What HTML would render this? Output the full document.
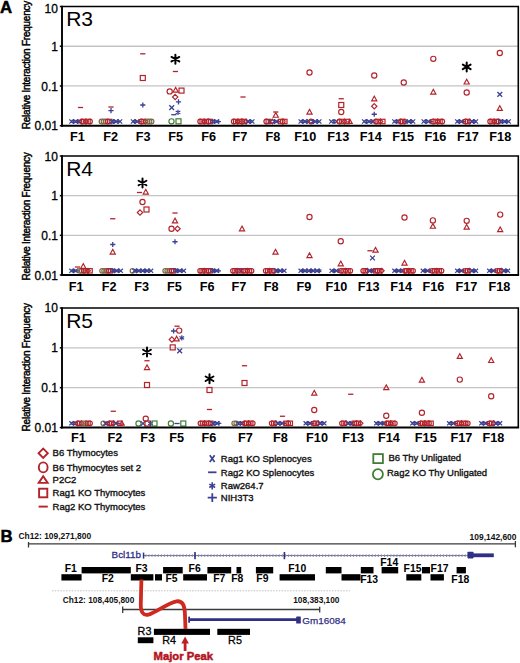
<!DOCTYPE html><html><head><meta charset="utf-8"><style>html,body{margin:0;padding:0;background:#fff;width:520px;height:663px;overflow:hidden}svg{display:block}text{font-family:"Liberation Sans", sans-serif}</style></head><body>
<svg width="520" height="663" viewBox="0 0 520 663">
<rect width="520" height="663" fill="#fff"/>
<text x="-0.1" y="12.6" font-size="16.8" font-weight="bold" fill="#000" stroke="#000" stroke-width="0.5">A</text>
<line x1="62.0" y1="46.23" x2="518.3" y2="46.23" stroke="#c4c4c4" stroke-width="1.3"/>
<line x1="62.0" y1="85.97" x2="518.3" y2="85.97" stroke="#c4c4c4" stroke-width="1.3"/>
<line x1="59.8" y1="6.50" x2="62.0" y2="6.50" stroke="#000" stroke-width="1.5"/>
<text x="57.9" y="12.50" font-size="12" text-anchor="end" fill="#000" stroke="#000" stroke-width="0.3">10</text>
<line x1="59.8" y1="46.23" x2="62.0" y2="46.23" stroke="#000" stroke-width="1.5"/>
<text x="57.9" y="50.63" font-size="12" text-anchor="end" fill="#000" stroke="#000" stroke-width="0.3">1</text>
<line x1="59.8" y1="85.97" x2="62.0" y2="85.97" stroke="#000" stroke-width="1.5"/>
<text x="57.9" y="90.97" font-size="12" text-anchor="end" fill="#000" stroke="#000" stroke-width="0.3">0.1</text>
<line x1="59.8" y1="125.70" x2="62.0" y2="125.70" stroke="#000" stroke-width="1.5"/>
<text x="57.9" y="129.60" font-size="12" text-anchor="end" fill="#000" stroke="#000" stroke-width="0.3">0.01</text>
<text transform="translate(30.0,65.0) rotate(-90)" font-size="10" text-anchor="middle" textLength="128.4" lengthAdjust="spacing" fill="#000" stroke="#000" stroke-width="0.45">Relative Interaction Frequency</text>
<text x="66.2" y="26.2" font-size="21" fill="#000">R3</text>
<path d="M69.33800000000001,119.388L73.562,123.612M73.562,119.388L69.33800000000001,123.612" stroke="#3c4192" stroke-width="1.25" fill="none"/>
<path d="M73.51666666666667,119.124L73.51666666666667,123.876M71.45899030727485,120.312L75.57434302605849,122.688M75.57434302605849,120.312L71.45899030727485,122.688" stroke="#3c4192" stroke-width="1.25" fill="none"/>
<path d="M73.47133333333335,119.388L77.69533333333334,123.612M77.69533333333334,119.388L73.47133333333335,123.612" stroke="#3c4192" stroke-width="1.25" fill="none"/>
<path d="M75.36200000000001,121.5L79.938,121.5M77.65,119.212L77.65,123.788" stroke="#3c4192" stroke-width="1.25" fill="none"/>
<path d="M77.60466666666667,119.388L81.82866666666666,123.612M81.82866666666666,119.388L77.60466666666667,123.612" stroke="#3c4192" stroke-width="1.25" fill="none"/>
<circle cx="81.78333333333333" cy="121.5" r="2.2880000000000003" fill="none" stroke="#b3232b" stroke-width="1.2"/>
<rect x="81.65" y="119.3" width="4.4" height="4.4" fill="none" stroke="#b3232b" stroke-width="1.2"/>
<polygon points="85.91666666666667,119.124 88.29266666666668,121.5 85.91666666666667,123.876 83.54066666666667,121.5" fill="none" stroke="#b3232b" stroke-width="1.2"/>
<rect x="85.78333333333333" y="119.3" width="4.4" height="4.4" fill="none" stroke="#b3232b" stroke-width="1.2"/>
<circle cx="90.05000000000001" cy="121.5" r="2.2880000000000003" fill="none" stroke="#b3232b" stroke-width="1.2"/>
<circle cx="101.45" cy="121.5" r="2.2880000000000003" fill="none" stroke="#7d6a48" stroke-width="1.2"/>
<circle cx="103.51666666666667" cy="121.5" r="2.2880000000000003" fill="none" stroke="#7d6a48" stroke-width="1.2"/>
<circle cx="105.58333333333334" cy="121.5" r="2.2880000000000003" fill="none" stroke="#7d6a48" stroke-width="1.2"/>
<circle cx="107.65" cy="121.5" r="2.2880000000000003" fill="none" stroke="#b3232b" stroke-width="1.2"/>
<rect x="107.51666666666667" y="119.3" width="4.4" height="4.4" fill="none" stroke="#b3232b" stroke-width="1.2"/>
<path d="M109.67133333333334,119.388L113.89533333333333,123.612M113.89533333333333,119.388L109.67133333333334,123.612" stroke="#3c4192" stroke-width="1.25" fill="none"/>
<path d="M113.85000000000001,119.124L113.85000000000001,123.876M111.79232364060819,120.312L115.90767635939183,122.688M115.90767635939183,120.312L111.79232364060819,122.688" stroke="#3c4192" stroke-width="1.25" fill="none"/>
<path d="M113.80466666666668,119.388L118.02866666666667,123.612M118.02866666666667,119.388L113.80466666666668,123.612" stroke="#3c4192" stroke-width="1.25" fill="none"/>
<path d="M115.69533333333334,121.5L120.27133333333333,121.5M117.98333333333333,119.212L117.98333333333333,123.788" stroke="#3c4192" stroke-width="1.25" fill="none"/>
<path d="M117.93800000000002,119.388L122.162,123.612M122.162,119.388L117.93800000000002,123.612" stroke="#3c4192" stroke-width="1.25" fill="none"/>
<path d="M130.888,119.388L135.112,123.612M135.112,119.388L130.888,123.612" stroke="#3c4192" stroke-width="1.25" fill="none"/>
<path d="M135.06666666666666,119.124L135.06666666666666,123.876M133.00899030727484,120.312L137.12434302605848,122.688M137.12434302605848,120.312L133.00899030727484,122.688" stroke="#3c4192" stroke-width="1.25" fill="none"/>
<path d="M135.02133333333333,119.388L139.24533333333332,123.612M139.24533333333332,119.388L135.02133333333333,123.612" stroke="#3c4192" stroke-width="1.25" fill="none"/>
<path d="M136.91199999999998,121.5L141.488,121.5M139.2,119.212L139.2,123.788" stroke="#3c4192" stroke-width="1.25" fill="none"/>
<circle cx="141.26666666666668" cy="121.5" r="2.2880000000000003" fill="none" stroke="#b3232b" stroke-width="1.2"/>
<rect x="141.13333333333335" y="119.3" width="4.4" height="4.4" fill="none" stroke="#b3232b" stroke-width="1.2"/>
<polygon points="145.4,119.124 147.776,121.5 145.4,123.876 143.024,121.5" fill="none" stroke="#b3232b" stroke-width="1.2"/>
<circle cx="147.46666666666667" cy="121.5" r="2.2880000000000003" fill="none" stroke="#7d6a48" stroke-width="1.2"/>
<circle cx="149.53333333333333" cy="121.5" r="2.2880000000000003" fill="none" stroke="#7d6a48" stroke-width="1.2"/>
<circle cx="151.6" cy="121.5" r="2.2880000000000003" fill="none" stroke="#7d6a48" stroke-width="1.2"/>
<circle cx="200.1" cy="121.5" r="2.2880000000000003" fill="none" stroke="#b3232b" stroke-width="1.2"/>
<rect x="199.96666666666667" y="119.3" width="4.4" height="4.4" fill="none" stroke="#b3232b" stroke-width="1.2"/>
<polygon points="204.23333333333332,119.124 206.60933333333332,121.5 204.23333333333332,123.876 201.85733333333332,121.5" fill="none" stroke="#b3232b" stroke-width="1.2"/>
<rect x="204.1" y="119.3" width="4.4" height="4.4" fill="none" stroke="#b3232b" stroke-width="1.2"/>
<circle cx="208.36666666666667" cy="121.5" r="2.2880000000000003" fill="none" stroke="#b3232b" stroke-width="1.2"/>
<rect x="208.23333333333335" y="119.3" width="4.4" height="4.4" fill="none" stroke="#b3232b" stroke-width="1.2"/>
<path d="M210.388,119.388L214.612,123.612M214.612,119.388L210.388,123.612" stroke="#3c4192" stroke-width="1.25" fill="none"/>
<path d="M214.56666666666666,119.124L214.56666666666666,123.876M212.50899030727484,120.312L216.62434302605848,122.688M216.62434302605848,120.312L212.50899030727484,122.688" stroke="#3c4192" stroke-width="1.25" fill="none"/>
<path d="M214.52133333333333,119.388L218.74533333333332,123.612M218.74533333333332,119.388L214.52133333333333,123.612" stroke="#3c4192" stroke-width="1.25" fill="none"/>
<path d="M216.41199999999998,121.5L220.988,121.5M218.7,119.212L218.7,123.788" stroke="#3c4192" stroke-width="1.25" fill="none"/>
<circle cx="233.7" cy="121.5" r="2.2880000000000003" fill="none" stroke="#b3232b" stroke-width="1.2"/>
<rect x="233.56666666666666" y="119.3" width="4.4" height="4.4" fill="none" stroke="#b3232b" stroke-width="1.2"/>
<polygon points="237.83333333333331,119.124 240.20933333333332,121.5 237.83333333333331,123.876 235.4573333333333,121.5" fill="none" stroke="#b3232b" stroke-width="1.2"/>
<rect x="237.7" y="119.3" width="4.4" height="4.4" fill="none" stroke="#b3232b" stroke-width="1.2"/>
<circle cx="241.96666666666667" cy="121.5" r="2.2880000000000003" fill="none" stroke="#b3232b" stroke-width="1.2"/>
<rect x="241.83333333333334" y="119.3" width="4.4" height="4.4" fill="none" stroke="#b3232b" stroke-width="1.2"/>
<polygon points="246.1,119.124 248.476,121.5 246.1,123.876 243.724,121.5" fill="none" stroke="#b3232b" stroke-width="1.2"/>
<path d="M246.05466666666666,119.388L250.27866666666665,123.612M250.27866666666665,119.388L246.05466666666666,123.612" stroke="#3c4192" stroke-width="1.25" fill="none"/>
<path d="M250.23333333333332,119.124L250.23333333333332,123.876M248.1756569739415,120.312L252.29100969272514,122.688M252.29100969272514,120.312L248.1756569739415,122.688" stroke="#3c4192" stroke-width="1.25" fill="none"/>
<path d="M250.188,119.388L254.41199999999998,123.612M254.41199999999998,119.388L250.188,123.612" stroke="#3c4192" stroke-width="1.25" fill="none"/>
<circle cx="266.2" cy="121.5" r="2.2880000000000003" fill="none" stroke="#b3232b" stroke-width="1.2"/>
<rect x="266.06666666666666" y="119.3" width="4.4" height="4.4" fill="none" stroke="#b3232b" stroke-width="1.2"/>
<path d="M268.2213333333333,119.388L272.44533333333334,123.612M272.44533333333334,119.388L268.2213333333333,123.612" stroke="#3c4192" stroke-width="1.25" fill="none"/>
<polygon points="272.4,119.124 274.77599999999995,121.5 272.4,123.876 270.024,121.5" fill="none" stroke="#b3232b" stroke-width="1.2"/>
<path d="M274.46666666666664,119.124L274.46666666666664,123.876M272.4089903072748,120.312L276.5243430260585,122.688M276.5243430260585,120.312L272.4089903072748,122.688" stroke="#3c4192" stroke-width="1.25" fill="none"/>
<path d="M274.4213333333333,119.388L278.6453333333333,123.612M278.6453333333333,119.388L274.4213333333333,123.612" stroke="#3c4192" stroke-width="1.25" fill="none"/>
<path d="M276.31199999999995,121.5L280.888,121.5M278.59999999999997,119.212L278.59999999999997,123.788" stroke="#3c4192" stroke-width="1.25" fill="none"/>
<rect x="278.46666666666664" y="119.3" width="4.4" height="4.4" fill="none" stroke="#b3232b" stroke-width="1.2"/>
<circle cx="282.73333333333335" cy="121.5" r="2.2880000000000003" fill="none" stroke="#b3232b" stroke-width="1.2"/>
<rect x="282.6" y="119.3" width="4.4" height="4.4" fill="none" stroke="#b3232b" stroke-width="1.2"/>
<path d="M298.58799999999997,119.388L302.812,123.612M302.812,119.388L298.58799999999997,123.612" stroke="#3c4192" stroke-width="1.25" fill="none"/>
<path d="M302.76666666666665,119.124L302.76666666666665,123.876M300.7089903072748,120.312L304.8243430260585,122.688M304.8243430260585,120.312L300.7089903072748,122.688" stroke="#3c4192" stroke-width="1.25" fill="none"/>
<path d="M302.7213333333333,119.388L306.94533333333334,123.612M306.94533333333334,119.388L302.7213333333333,123.612" stroke="#3c4192" stroke-width="1.25" fill="none"/>
<path d="M304.61199999999997,121.5L309.188,121.5M306.9,119.212L306.9,123.788" stroke="#3c4192" stroke-width="1.25" fill="none"/>
<path d="M306.8546666666666,119.388L311.07866666666666,123.612M311.07866666666666,119.388L306.8546666666666,123.612" stroke="#3c4192" stroke-width="1.25" fill="none"/>
<circle cx="311.0333333333333" cy="121.5" r="2.2880000000000003" fill="none" stroke="#b3232b" stroke-width="1.2"/>
<path d="M313.09999999999997,119.124L313.09999999999997,123.876M311.0423236406081,120.312L315.1576763593918,122.688M315.1576763593918,120.312L311.0423236406081,122.688" stroke="#3c4192" stroke-width="1.25" fill="none"/>
<path d="M313.0546666666666,119.388L317.27866666666665,123.612M317.27866666666665,119.388L313.0546666666666,123.612" stroke="#3c4192" stroke-width="1.25" fill="none"/>
<path d="M314.94533333333334,121.5L319.52133333333336,121.5M317.23333333333335,119.212L317.23333333333335,123.788" stroke="#3c4192" stroke-width="1.25" fill="none"/>
<path d="M317.188,119.388L321.41200000000003,123.612M321.41200000000003,119.388L317.188,123.612" stroke="#3c4192" stroke-width="1.25" fill="none"/>
<path d="M329.188,119.388L333.41200000000003,123.612M333.41200000000003,119.388L329.188,123.612" stroke="#3c4192" stroke-width="1.25" fill="none"/>
<path d="M333.95714285714286,119.124L333.95714285714286,123.876M331.899466497751,120.312L336.0148192165347,122.688M336.0148192165347,120.312L331.899466497751,122.688" stroke="#3c4192" stroke-width="1.25" fill="none"/>
<path d="M334.5022857142857,119.388L338.7262857142857,123.612M338.7262857142857,119.388L334.5022857142857,123.612" stroke="#3c4192" stroke-width="1.25" fill="none"/>
<circle cx="339.2714285714286" cy="121.5" r="2.2880000000000003" fill="none" stroke="#b3232b" stroke-width="1.2"/>
<rect x="339.72857142857146" y="119.3" width="4.4" height="4.4" fill="none" stroke="#b3232b" stroke-width="1.2"/>
<polygon points="344.5857142857143,119.124 346.96171428571427,121.5 344.5857142857143,123.876 342.2097142857143,121.5" fill="none" stroke="#b3232b" stroke-width="1.2"/>
<rect x="345.04285714285714" y="119.3" width="4.4" height="4.4" fill="none" stroke="#b3232b" stroke-width="1.2"/>
<polygon points="349.90000000000003,119.212 352.18800000000005,123.3304 347.612,123.3304" fill="none" stroke="#b3232b" stroke-width="1.2" stroke-linejoin="miter"/>
<path d="M362.08799999999997,119.388L366.312,123.612M366.312,119.388L362.08799999999997,123.612" stroke="#3c4192" stroke-width="1.25" fill="none"/>
<path d="M366.525,119.124L366.525,123.876M364.46732364060813,120.312L368.5826763593918,122.688M368.5826763593918,120.312L364.46732364060813,122.688" stroke="#3c4192" stroke-width="1.25" fill="none"/>
<path d="M366.73799999999994,119.388L370.962,123.612M370.962,119.388L366.73799999999994,123.612" stroke="#3c4192" stroke-width="1.25" fill="none"/>
<path d="M368.887,121.5L373.463,121.5M371.175,119.212L371.175,123.788" stroke="#3c4192" stroke-width="1.25" fill="none"/>
<path d="M371.388,119.388L375.612,123.612M375.612,119.388L371.388,123.612" stroke="#3c4192" stroke-width="1.25" fill="none"/>
<circle cx="375.825" cy="121.5" r="2.2880000000000003" fill="none" stroke="#b3232b" stroke-width="1.2"/>
<rect x="375.95" y="119.3" width="4.4" height="4.4" fill="none" stroke="#b3232b" stroke-width="1.2"/>
<polygon points="380.47499999999997,119.124 382.85099999999994,121.5 380.47499999999997,123.876 378.099,121.5" fill="none" stroke="#b3232b" stroke-width="1.2"/>
<rect x="380.6" y="119.3" width="4.4" height="4.4" fill="none" stroke="#b3232b" stroke-width="1.2"/>
<path d="M392.33799999999997,119.388L396.562,123.612M396.562,119.388L392.33799999999997,123.612" stroke="#3c4192" stroke-width="1.25" fill="none"/>
<path d="M396.51666666666665,119.124L396.51666666666665,123.876M394.4589903072748,120.312L398.5743430260585,122.688M398.5743430260585,120.312L394.4589903072748,122.688" stroke="#3c4192" stroke-width="1.25" fill="none"/>
<path d="M396.4713333333333,119.388L400.69533333333334,123.612M400.69533333333334,119.388L396.4713333333333,123.612" stroke="#3c4192" stroke-width="1.25" fill="none"/>
<circle cx="400.65" cy="121.5" r="2.2880000000000003" fill="none" stroke="#b3232b" stroke-width="1.2"/>
<rect x="400.51666666666665" y="119.3" width="4.4" height="4.4" fill="none" stroke="#b3232b" stroke-width="1.2"/>
<polygon points="404.7833333333333,119.124 407.1593333333333,121.5 404.7833333333333,123.876 402.4073333333333,121.5" fill="none" stroke="#b3232b" stroke-width="1.2"/>
<path d="M404.56199999999995,121.5L409.138,121.5M406.84999999999997,119.212L406.84999999999997,123.788" stroke="#3c4192" stroke-width="1.25" fill="none"/>
<path d="M406.8046666666666,119.388L411.02866666666665,123.612M411.02866666666665,119.388L406.8046666666666,123.612" stroke="#3c4192" stroke-width="1.25" fill="none"/>
<path d="M410.98333333333335,119.124L410.98333333333335,123.876M408.9256569739415,120.312L413.0410096927252,122.688M413.0410096927252,120.312L408.9256569739415,122.688" stroke="#3c4192" stroke-width="1.25" fill="none"/>
<path d="M410.938,119.388L415.16200000000003,123.612M415.16200000000003,119.388L410.938,123.612" stroke="#3c4192" stroke-width="1.25" fill="none"/>
<path d="M421.58799999999997,119.388L425.812,123.612M425.812,119.388L421.58799999999997,123.612" stroke="#3c4192" stroke-width="1.25" fill="none"/>
<path d="M426.025,119.124L426.025,123.876M423.96732364060813,120.312L428.0826763593918,122.688M428.0826763593918,120.312L423.96732364060813,122.688" stroke="#3c4192" stroke-width="1.25" fill="none"/>
<path d="M426.23799999999994,119.388L430.462,123.612M430.462,119.388L426.23799999999994,123.612" stroke="#3c4192" stroke-width="1.25" fill="none"/>
<path d="M428.387,121.5L432.963,121.5M430.675,119.212L430.675,123.788" stroke="#3c4192" stroke-width="1.25" fill="none"/>
<circle cx="433.0" cy="121.5" r="2.2880000000000003" fill="none" stroke="#b3232b" stroke-width="1.2"/>
<rect x="433.125" y="119.3" width="4.4" height="4.4" fill="none" stroke="#b3232b" stroke-width="1.2"/>
<polygon points="437.65,119.124 440.02599999999995,121.5 437.65,123.876 435.274,121.5" fill="none" stroke="#b3232b" stroke-width="1.2"/>
<rect x="437.775" y="119.3" width="4.4" height="4.4" fill="none" stroke="#b3232b" stroke-width="1.2"/>
<circle cx="442.3" cy="121.5" r="2.2880000000000003" fill="none" stroke="#b3232b" stroke-width="1.2"/>
<path d="M455.188,119.388L459.41200000000003,123.612M459.41200000000003,119.388L455.188,123.612" stroke="#3c4192" stroke-width="1.25" fill="none"/>
<path d="M459.3666666666667,119.124L459.3666666666667,123.876M457.3089903072748,120.312L461.4243430260585,122.688M461.4243430260585,120.312L457.3089903072748,122.688" stroke="#3c4192" stroke-width="1.25" fill="none"/>
<path d="M459.3213333333333,119.388L463.54533333333336,123.612M463.54533333333336,119.388L459.3213333333333,123.612" stroke="#3c4192" stroke-width="1.25" fill="none"/>
<path d="M461.212,121.5L465.788,121.5M463.5,119.212L463.5,123.788" stroke="#3c4192" stroke-width="1.25" fill="none"/>
<circle cx="465.56666666666666" cy="121.5" r="2.2880000000000003" fill="none" stroke="#b3232b" stroke-width="1.2"/>
<rect x="465.43333333333334" y="119.3" width="4.4" height="4.4" fill="none" stroke="#b3232b" stroke-width="1.2"/>
<polygon points="469.7,119.124 472.07599999999996,121.5 469.7,123.876 467.324,121.5" fill="none" stroke="#b3232b" stroke-width="1.2"/>
<path d="M469.6546666666666,119.388L473.8786666666667,123.612M473.8786666666667,119.388L469.6546666666666,123.612" stroke="#3c4192" stroke-width="1.25" fill="none"/>
<path d="M473.83333333333337,119.124L473.83333333333337,123.876M471.7756569739415,120.312L475.8910096927252,122.688M475.8910096927252,120.312L471.7756569739415,122.688" stroke="#3c4192" stroke-width="1.25" fill="none"/>
<path d="M473.788,119.388L478.01200000000006,123.612M478.01200000000006,119.388L473.788,123.612" stroke="#3c4192" stroke-width="1.25" fill="none"/>
<circle cx="490.09999999999997" cy="121.5" r="2.2880000000000003" fill="none" stroke="#b3232b" stroke-width="1.2"/>
<rect x="489.96666666666664" y="119.3" width="4.4" height="4.4" fill="none" stroke="#b3232b" stroke-width="1.2"/>
<polygon points="494.2333333333333,119.124 496.60933333333327,121.5 494.2333333333333,123.876 491.8573333333333,121.5" fill="none" stroke="#b3232b" stroke-width="1.2"/>
<rect x="494.09999999999997" y="119.3" width="4.4" height="4.4" fill="none" stroke="#b3232b" stroke-width="1.2"/>
<circle cx="498.3666666666666" cy="121.5" r="2.2880000000000003" fill="none" stroke="#b3232b" stroke-width="1.2"/>
<path d="M498.32133333333326,119.388L502.5453333333333,123.612M502.5453333333333,119.388L498.32133333333326,123.612" stroke="#3c4192" stroke-width="1.25" fill="none"/>
<path d="M502.49999999999994,119.124L502.49999999999994,123.876M500.4423236406081,120.312L504.5576763593918,122.688M504.5576763593918,120.312L500.4423236406081,122.688" stroke="#3c4192" stroke-width="1.25" fill="none"/>
<path d="M502.4546666666666,119.388L506.67866666666663,123.612M506.67866666666663,119.388L502.4546666666666,123.612" stroke="#3c4192" stroke-width="1.25" fill="none"/>
<path d="M504.3453333333333,121.5L508.92133333333334,121.5M506.6333333333333,119.212L506.6333333333333,123.788" stroke="#3c4192" stroke-width="1.25" fill="none"/>
<path d="M506.58799999999997,119.388L510.812,123.612M510.812,119.388L506.58799999999997,123.612" stroke="#3c4192" stroke-width="1.25" fill="none"/>
<line x1="77.9" y1="107.5" x2="83.1" y2="107.5" stroke="#b3232b" stroke-width="1.3"/>
<line x1="108.4" y1="107" x2="113.6" y2="107" stroke="#b3232b" stroke-width="1.3"/>
<path d="M108.4,110.7L113.6,110.7M111,108.10000000000001L111,113.3" stroke="#3c4192" stroke-width="1.3" fill="none"/>
<line x1="140.20000000000002" y1="53.8" x2="145.4" y2="53.8" stroke="#b3232b" stroke-width="1.3"/>
<rect x="140.3" y="75.5" width="5.0" height="5.0" fill="none" stroke="#b3232b" stroke-width="1.2"/>
<path d="M140.20000000000002,105L145.4,105M142.8,102.4L142.8,107.6" stroke="#3c4192" stroke-width="1.3" fill="none"/>
<path d="M175.4,54.7L175.4,63.7M171.50288568297003,56.95L179.29711431702998,61.45M179.29711431702998,56.95L171.50288568297003,61.45" stroke="#000" stroke-width="2.0" stroke-linecap="round" fill="none"/>
<line x1="172.8" y1="71.5" x2="178.0" y2="71.5" stroke="#b3232b" stroke-width="1.3"/>
<circle cx="169.7" cy="91.4" r="2.6" fill="none" stroke="#b3232b" stroke-width="1.15"/>
<polygon points="175.6,87.4 178.2,92.08 173.0,92.08" fill="none" stroke="#b3232b" stroke-width="1.15" stroke-linejoin="miter"/>
<rect x="179.0" y="88.1" width="5.0" height="5.0" fill="none" stroke="#b3232b" stroke-width="1.2"/>
<polygon points="175.2,94.3 177.89999999999998,97 175.2,99.7 172.5,97" fill="none" stroke="#b3232b" stroke-width="1.15"/>
<path d="M175.9,101.8L181.1,101.8M178.5,99.2L178.5,104.39999999999999" stroke="#3c4192" stroke-width="1.3" fill="none"/>
<path d="M169.29999999999998,105.19999999999999L174.1,110.0M174.1,105.19999999999999L169.29999999999998,110.0" stroke="#3c4192" stroke-width="1.3" fill="none"/>
<path d="M178,109.7L178,115.10000000000001M175.66173140978202,111.05000000000001L180.33826859021798,113.75M180.33826859021798,111.05000000000001L175.66173140978202,113.75" stroke="#3c4192" stroke-width="1.2" fill="none"/>
<line x1="171.20000000000002" y1="114.7" x2="176.4" y2="114.7" stroke="#3c4192" stroke-width="1.3"/>
<circle cx="171.5" cy="121.3" r="2.6" fill="none" stroke="#427d38" stroke-width="1.15"/>
<rect x="176.0" y="118.8" width="5.0" height="5.0" fill="none" stroke="#427d38" stroke-width="1.2"/>
<line x1="240.4" y1="97" x2="245.6" y2="97" stroke="#b3232b" stroke-width="1.3"/>
<line x1="273.15" y1="112" x2="278.35" y2="112" stroke="#b3232b" stroke-width="1.3"/>
<polygon points="275.75,112.60000000000001 278.35,117.28 273.15,117.28" fill="none" stroke="#b3232b" stroke-width="1.15" stroke-linejoin="miter"/>
<circle cx="309.5" cy="72.5" r="2.6" fill="none" stroke="#b3232b" stroke-width="1.15"/>
<polygon points="309.5,109.4 312.1,114.08 306.9,114.08" fill="none" stroke="#b3232b" stroke-width="1.15" stroke-linejoin="miter"/>
<line x1="338.65" y1="98.75" x2="343.85" y2="98.75" stroke="#b3232b" stroke-width="1.3"/>
<rect x="338.75" y="102.5" width="5.0" height="5.0" fill="none" stroke="#b3232b" stroke-width="1.2"/>
<circle cx="341.25" cy="112" r="2.6" fill="none" stroke="#b3232b" stroke-width="1.15"/>
<circle cx="374.25" cy="75.5" r="2.6" fill="none" stroke="#b3232b" stroke-width="1.15"/>
<polygon points="374.25,96.15 376.85,100.83 371.65,100.83" fill="none" stroke="#b3232b" stroke-width="1.15" stroke-linejoin="miter"/>
<polygon points="374.25,103.55 376.95,106.25 374.25,108.95 371.55,106.25" fill="none" stroke="#b3232b" stroke-width="1.15"/>
<path d="M371.65,114.25L376.85,114.25M374.25,111.65L374.25,116.85" stroke="#3c4192" stroke-width="1.3" fill="none"/>
<circle cx="403.75" cy="82.5" r="2.6" fill="none" stroke="#b3232b" stroke-width="1.15"/>
<circle cx="433.3" cy="58.8" r="2.6" fill="none" stroke="#b3232b" stroke-width="1.15"/>
<polygon points="433.3,89.4 435.90000000000003,94.08 430.7,94.08" fill="none" stroke="#b3232b" stroke-width="1.15" stroke-linejoin="miter"/>
<path d="M466.7,62.400000000000006L466.7,71.4M462.80288568297,64.65L470.59711431703,69.15M470.59711431703,64.65L462.80288568297,69.15" stroke="#000" stroke-width="2.0" stroke-linecap="round" fill="none"/>
<polygon points="466.7,79.30000000000001 469.3,83.98 464.09999999999997,83.98" fill="none" stroke="#b3232b" stroke-width="1.15" stroke-linejoin="miter"/>
<circle cx="466.7" cy="92.5" r="2.6" fill="none" stroke="#b3232b" stroke-width="1.15"/>
<circle cx="499.8" cy="53" r="2.6" fill="none" stroke="#b3232b" stroke-width="1.15"/>
<path d="M497.40000000000003,92.0L502.2,96.80000000000001M502.2,92.0L497.40000000000003,96.80000000000001" stroke="#3c4192" stroke-width="1.3" fill="none"/>
<polygon points="499.8,105.7 502.40000000000003,110.38 497.2,110.38" fill="none" stroke="#b3232b" stroke-width="1.15" stroke-linejoin="miter"/>
<path d="M62.0,6.5H518.3V125.7" fill="none" stroke="#000" stroke-width="1.6"/>
<line x1="62.0" y1="5.7" x2="62.0" y2="126.7" stroke="#000" stroke-width="1.9"/>
<line x1="61.0" y1="125.7" x2="519.0999999999999" y2="125.7" stroke="#000" stroke-width="1.9"/>
<text x="77.3" y="140.7" font-size="12.7" font-weight="bold" text-anchor="middle" fill="#000">F1</text>
<text x="110.75" y="140.7" font-size="12.7" font-weight="bold" text-anchor="middle" fill="#000">F2</text>
<text x="143.1" y="140.7" font-size="12.7" font-weight="bold" text-anchor="middle" fill="#000">F3</text>
<text x="175.7" y="140.7" font-size="12.7" font-weight="bold" text-anchor="middle" fill="#000">F5</text>
<text x="208.65" y="140.7" font-size="12.7" font-weight="bold" text-anchor="middle" fill="#000">F6</text>
<text x="240" y="140.7" font-size="12.7" font-weight="bold" text-anchor="middle" fill="#000">F7</text>
<text x="272.85" y="140.7" font-size="12.7" font-weight="bold" text-anchor="middle" fill="#000">F8</text>
<text x="305.3" y="140.7" font-size="12.7" font-weight="bold" text-anchor="middle" fill="#000">F10</text>
<text x="338.3" y="140.7" font-size="12.7" font-weight="bold" text-anchor="middle" fill="#000">F13</text>
<text x="370.8" y="140.7" font-size="12.7" font-weight="bold" text-anchor="middle" fill="#000">F14</text>
<text x="403.1" y="140.7" font-size="12.7" font-weight="bold" text-anchor="middle" fill="#000">F15</text>
<text x="435.5" y="140.7" font-size="12.7" font-weight="bold" text-anchor="middle" fill="#000">F16</text>
<text x="468" y="140.7" font-size="12.7" font-weight="bold" text-anchor="middle" fill="#000">F17</text>
<text x="500.3" y="140.7" font-size="12.7" font-weight="bold" text-anchor="middle" fill="#000">F18</text>
<line x1="62.0" y1="195.67" x2="518.3" y2="195.67" stroke="#c4c4c4" stroke-width="1.3"/>
<line x1="62.0" y1="235.33" x2="518.3" y2="235.33" stroke="#c4c4c4" stroke-width="1.3"/>
<line x1="59.8" y1="156.00" x2="62.0" y2="156.00" stroke="#000" stroke-width="1.5"/>
<text x="57.9" y="161.10" font-size="12" text-anchor="end" fill="#000" stroke="#000" stroke-width="0.3">10</text>
<line x1="59.8" y1="195.67" x2="62.0" y2="195.67" stroke="#000" stroke-width="1.5"/>
<text x="57.9" y="200.07" font-size="12" text-anchor="end" fill="#000" stroke="#000" stroke-width="0.3">1</text>
<line x1="59.8" y1="235.33" x2="62.0" y2="235.33" stroke="#000" stroke-width="1.5"/>
<text x="57.9" y="239.73" font-size="12" text-anchor="end" fill="#000" stroke="#000" stroke-width="0.3">0.1</text>
<line x1="59.8" y1="275.00" x2="62.0" y2="275.00" stroke="#000" stroke-width="1.5"/>
<text x="57.9" y="279.90" font-size="12" text-anchor="end" fill="#000" stroke="#000" stroke-width="0.3">0.01</text>
<text transform="translate(30.0,216.4) rotate(-90)" font-size="10" text-anchor="middle" textLength="128.4" lengthAdjust="spacing" fill="#000" stroke="#000" stroke-width="0.45">Relative Interaction Frequency</text>
<text x="66.2" y="175.7" font-size="21" fill="#000">R4</text>
<path d="M69.33800000000001,268.688L73.562,272.91200000000003M73.562,268.688L69.33800000000001,272.91200000000003" stroke="#3c4192" stroke-width="1.25" fill="none"/>
<path d="M73.51666666666667,268.42400000000004L73.51666666666667,273.176M71.45899030727485,269.612L75.57434302605849,271.988M75.57434302605849,269.612L71.45899030727485,271.988" stroke="#3c4192" stroke-width="1.25" fill="none"/>
<path d="M73.47133333333335,268.688L77.69533333333334,272.91200000000003M77.69533333333334,268.688L73.47133333333335,272.91200000000003" stroke="#3c4192" stroke-width="1.25" fill="none"/>
<path d="M75.36200000000001,270.8L79.938,270.8M77.65,268.512L77.65,273.088" stroke="#3c4192" stroke-width="1.25" fill="none"/>
<circle cx="79.71666666666667" cy="270.8" r="2.2880000000000003" fill="none" stroke="#7d6a48" stroke-width="1.2"/>
<circle cx="81.78333333333333" cy="270.8" r="2.2880000000000003" fill="none" stroke="#7d6a48" stroke-width="1.2"/>
<circle cx="83.85000000000001" cy="270.8" r="2.2880000000000003" fill="none" stroke="#b3232b" stroke-width="1.2"/>
<rect x="83.71666666666667" y="268.6" width="4.4" height="4.4" fill="none" stroke="#b3232b" stroke-width="1.2"/>
<polygon points="87.98333333333333,268.42400000000004 90.35933333333334,270.8 87.98333333333333,273.176 85.60733333333333,270.8" fill="none" stroke="#b3232b" stroke-width="1.2"/>
<rect x="87.85000000000001" y="268.6" width="4.4" height="4.4" fill="none" stroke="#b3232b" stroke-width="1.2"/>
<circle cx="102.10000000000001" cy="270.8" r="2.2880000000000003" fill="none" stroke="#7d6a48" stroke-width="1.2"/>
<circle cx="104.16666666666667" cy="270.8" r="2.2880000000000003" fill="none" stroke="#7d6a48" stroke-width="1.2"/>
<circle cx="106.23333333333335" cy="270.8" r="2.2880000000000003" fill="none" stroke="#7d6a48" stroke-width="1.2"/>
<circle cx="108.30000000000001" cy="270.8" r="2.2880000000000003" fill="none" stroke="#b3232b" stroke-width="1.2"/>
<rect x="108.16666666666667" y="268.6" width="4.4" height="4.4" fill="none" stroke="#b3232b" stroke-width="1.2"/>
<path d="M110.32133333333334,268.688L114.54533333333333,272.91200000000003M114.54533333333333,268.688L110.32133333333334,272.91200000000003" stroke="#3c4192" stroke-width="1.25" fill="none"/>
<path d="M114.50000000000001,268.42400000000004L114.50000000000001,273.176M112.4423236406082,269.612L116.55767635939183,271.988M116.55767635939183,269.612L112.4423236406082,271.988" stroke="#3c4192" stroke-width="1.25" fill="none"/>
<path d="M114.45466666666668,268.688L118.67866666666667,272.91200000000003M118.67866666666667,268.688L114.45466666666668,272.91200000000003" stroke="#3c4192" stroke-width="1.25" fill="none"/>
<path d="M116.34533333333334,270.8L120.92133333333334,270.8M118.63333333333334,268.512L118.63333333333334,273.088" stroke="#3c4192" stroke-width="1.25" fill="none"/>
<path d="M118.58800000000002,268.688L122.81200000000001,272.91200000000003M122.81200000000001,268.688L118.58800000000002,272.91200000000003" stroke="#3c4192" stroke-width="1.25" fill="none"/>
<circle cx="132.45" cy="270.8" r="2.2880000000000003" fill="none" stroke="#7d6a48" stroke-width="1.2"/>
<path d="M132.40466666666666,268.688L136.62866666666665,272.91200000000003M136.62866666666665,268.688L132.40466666666666,272.91200000000003" stroke="#3c4192" stroke-width="1.25" fill="none"/>
<path d="M136.58333333333331,268.42400000000004L136.58333333333331,273.176M134.5256569739415,269.612L138.64100969272513,271.988M138.64100969272513,269.612L134.5256569739415,271.988" stroke="#3c4192" stroke-width="1.25" fill="none"/>
<path d="M136.53799999999998,268.688L140.76199999999997,272.91200000000003M140.76199999999997,268.688L136.53799999999998,272.91200000000003" stroke="#3c4192" stroke-width="1.25" fill="none"/>
<path d="M138.42866666666666,270.8L143.00466666666668,270.8M140.71666666666667,268.512L140.71666666666667,273.088" stroke="#3c4192" stroke-width="1.25" fill="none"/>
<path d="M140.67133333333334,268.688L144.89533333333333,272.91200000000003M144.89533333333333,268.688L140.67133333333334,272.91200000000003" stroke="#3c4192" stroke-width="1.25" fill="none"/>
<path d="M144.85,268.42400000000004L144.85,273.176M142.79232364060817,269.612L146.90767635939181,271.988M146.90767635939181,269.612L142.79232364060817,271.988" stroke="#3c4192" stroke-width="1.25" fill="none"/>
<path d="M144.80466666666666,268.688L149.02866666666665,272.91200000000003M149.02866666666665,268.688L144.80466666666666,272.91200000000003" stroke="#3c4192" stroke-width="1.25" fill="none"/>
<path d="M146.6953333333333,270.8L151.27133333333333,270.8M148.98333333333332,268.512L148.98333333333332,273.088" stroke="#3c4192" stroke-width="1.25" fill="none"/>
<path d="M148.938,268.688L153.16199999999998,272.91200000000003M153.16199999999998,268.688L148.938,272.91200000000003" stroke="#3c4192" stroke-width="1.25" fill="none"/>
<circle cx="165.2" cy="270.8" r="2.2880000000000003" fill="none" stroke="#7d6a48" stroke-width="1.2"/>
<circle cx="167.26666666666665" cy="270.8" r="2.2880000000000003" fill="none" stroke="#7d6a48" stroke-width="1.2"/>
<circle cx="169.33333333333331" cy="270.8" r="2.2880000000000003" fill="none" stroke="#7d6a48" stroke-width="1.2"/>
<circle cx="171.39999999999998" cy="270.8" r="2.2880000000000003" fill="none" stroke="#b3232b" stroke-width="1.2"/>
<rect x="171.26666666666668" y="268.6" width="4.4" height="4.4" fill="none" stroke="#b3232b" stroke-width="1.2"/>
<path d="M173.42133333333334,268.688L177.64533333333333,272.91200000000003M177.64533333333333,268.688L173.42133333333334,272.91200000000003" stroke="#3c4192" stroke-width="1.25" fill="none"/>
<path d="M177.6,268.42400000000004L177.6,273.176M175.54232364060817,269.612L179.65767635939181,271.988M179.65767635939181,269.612L175.54232364060817,271.988" stroke="#3c4192" stroke-width="1.25" fill="none"/>
<path d="M177.55466666666666,268.688L181.77866666666665,272.91200000000003M181.77866666666665,268.688L177.55466666666666,272.91200000000003" stroke="#3c4192" stroke-width="1.25" fill="none"/>
<path d="M179.4453333333333,270.8L184.02133333333333,270.8M181.73333333333332,268.512L181.73333333333332,273.088" stroke="#3c4192" stroke-width="1.25" fill="none"/>
<path d="M181.688,268.688L185.91199999999998,272.91200000000003M185.91199999999998,268.688L181.688,272.91200000000003" stroke="#3c4192" stroke-width="1.25" fill="none"/>
<circle cx="200.1" cy="270.8" r="2.2880000000000003" fill="none" stroke="#b3232b" stroke-width="1.2"/>
<rect x="199.96666666666667" y="268.6" width="4.4" height="4.4" fill="none" stroke="#b3232b" stroke-width="1.2"/>
<polygon points="204.23333333333332,268.42400000000004 206.60933333333332,270.8 204.23333333333332,273.176 201.85733333333332,270.8" fill="none" stroke="#b3232b" stroke-width="1.2"/>
<rect x="204.1" y="268.6" width="4.4" height="4.4" fill="none" stroke="#b3232b" stroke-width="1.2"/>
<circle cx="208.36666666666667" cy="270.8" r="2.2880000000000003" fill="none" stroke="#b3232b" stroke-width="1.2"/>
<rect x="208.23333333333335" y="268.6" width="4.4" height="4.4" fill="none" stroke="#b3232b" stroke-width="1.2"/>
<path d="M210.388,268.688L214.612,272.91200000000003M214.612,268.688L210.388,272.91200000000003" stroke="#3c4192" stroke-width="1.25" fill="none"/>
<path d="M214.56666666666666,268.42400000000004L214.56666666666666,273.176M212.50899030727484,269.612L216.62434302605848,271.988M216.62434302605848,269.612L212.50899030727484,271.988" stroke="#3c4192" stroke-width="1.25" fill="none"/>
<path d="M214.52133333333333,268.688L218.74533333333332,272.91200000000003M218.74533333333332,268.688L214.52133333333333,272.91200000000003" stroke="#3c4192" stroke-width="1.25" fill="none"/>
<path d="M216.41199999999998,270.8L220.988,270.8M218.7,268.512L218.7,273.088" stroke="#3c4192" stroke-width="1.25" fill="none"/>
<circle cx="232.95" cy="270.8" r="2.2880000000000003" fill="none" stroke="#b3232b" stroke-width="1.2"/>
<rect x="232.81666666666666" y="268.6" width="4.4" height="4.4" fill="none" stroke="#b3232b" stroke-width="1.2"/>
<polygon points="237.08333333333331,268.42400000000004 239.45933333333332,270.8 237.08333333333331,273.176 234.7073333333333,270.8" fill="none" stroke="#b3232b" stroke-width="1.2"/>
<rect x="236.95" y="268.6" width="4.4" height="4.4" fill="none" stroke="#b3232b" stroke-width="1.2"/>
<path d="M239.10466666666667,268.688L243.32866666666666,272.91200000000003M243.32866666666666,268.688L239.10466666666667,272.91200000000003" stroke="#3c4192" stroke-width="1.25" fill="none"/>
<circle cx="243.28333333333333" cy="270.8" r="2.2880000000000003" fill="none" stroke="#b3232b" stroke-width="1.2"/>
<rect x="243.15" y="268.6" width="4.4" height="4.4" fill="none" stroke="#b3232b" stroke-width="1.2"/>
<polygon points="247.41666666666666,268.42400000000004 249.79266666666666,270.8 247.41666666666666,273.176 245.04066666666665,270.8" fill="none" stroke="#b3232b" stroke-width="1.2"/>
<rect x="247.28333333333333" y="268.6" width="4.4" height="4.4" fill="none" stroke="#b3232b" stroke-width="1.2"/>
<circle cx="251.54999999999998" cy="270.8" r="2.2880000000000003" fill="none" stroke="#b3232b" stroke-width="1.2"/>
<circle cx="265.7" cy="270.8" r="2.2880000000000003" fill="none" stroke="#b3232b" stroke-width="1.2"/>
<rect x="265.56666666666666" y="268.6" width="4.4" height="4.4" fill="none" stroke="#b3232b" stroke-width="1.2"/>
<polygon points="269.8333333333333,268.42400000000004 272.2093333333333,270.8 269.8333333333333,273.176 267.45733333333334,270.8" fill="none" stroke="#b3232b" stroke-width="1.2"/>
<rect x="269.7" y="268.6" width="4.4" height="4.4" fill="none" stroke="#b3232b" stroke-width="1.2"/>
<circle cx="273.96666666666664" cy="270.8" r="2.2880000000000003" fill="none" stroke="#b3232b" stroke-width="1.2"/>
<path d="M273.9213333333333,268.688L278.1453333333333,272.91200000000003M278.1453333333333,268.688L273.9213333333333,272.91200000000003" stroke="#3c4192" stroke-width="1.25" fill="none"/>
<path d="M278.09999999999997,268.42400000000004L278.09999999999997,273.176M276.0423236406081,269.612L280.1576763593918,271.988M280.1576763593918,269.612L276.0423236406081,271.988" stroke="#3c4192" stroke-width="1.25" fill="none"/>
<path d="M278.0546666666666,268.688L282.27866666666665,272.91200000000003M282.27866666666665,268.688L278.0546666666666,272.91200000000003" stroke="#3c4192" stroke-width="1.25" fill="none"/>
<path d="M279.94533333333334,270.8L284.52133333333336,270.8M282.23333333333335,268.512L282.23333333333335,273.088" stroke="#3c4192" stroke-width="1.25" fill="none"/>
<path d="M282.188,268.688L286.41200000000003,272.91200000000003M286.41200000000003,268.688L282.188,272.91200000000003" stroke="#3c4192" stroke-width="1.25" fill="none"/>
<path d="M298.58799999999997,268.688L302.812,272.91200000000003M302.812,268.688L298.58799999999997,272.91200000000003" stroke="#3c4192" stroke-width="1.25" fill="none"/>
<path d="M302.76666666666665,268.42400000000004L302.76666666666665,273.176M300.7089903072748,269.612L304.8243430260585,271.988M304.8243430260585,269.612L300.7089903072748,271.988" stroke="#3c4192" stroke-width="1.25" fill="none"/>
<path d="M302.7213333333333,268.688L306.94533333333334,272.91200000000003M306.94533333333334,268.688L302.7213333333333,272.91200000000003" stroke="#3c4192" stroke-width="1.25" fill="none"/>
<path d="M304.61199999999997,270.8L309.188,270.8M306.9,268.512L306.9,273.088" stroke="#3c4192" stroke-width="1.25" fill="none"/>
<path d="M306.8546666666666,268.688L311.07866666666666,272.91200000000003M311.07866666666666,268.688L306.8546666666666,272.91200000000003" stroke="#3c4192" stroke-width="1.25" fill="none"/>
<path d="M311.0333333333333,268.42400000000004L311.0333333333333,273.176M308.97565697394145,269.612L313.09100969272515,271.988M313.09100969272515,269.612L308.97565697394145,271.988" stroke="#3c4192" stroke-width="1.25" fill="none"/>
<path d="M310.98799999999994,268.688L315.212,272.91200000000003M315.212,268.688L310.98799999999994,272.91200000000003" stroke="#3c4192" stroke-width="1.25" fill="none"/>
<path d="M312.8786666666666,270.8L317.45466666666664,270.8M315.16666666666663,268.512L315.16666666666663,273.088" stroke="#3c4192" stroke-width="1.25" fill="none"/>
<path d="M315.1213333333333,268.688L319.3453333333334,272.91200000000003M319.3453333333334,268.688L315.1213333333333,272.91200000000003" stroke="#3c4192" stroke-width="1.25" fill="none"/>
<path d="M319.3,268.42400000000004L319.3,273.176M317.24232364060816,269.612L321.35767635939186,271.988M321.35767635939186,269.612L317.24232364060816,271.988" stroke="#3c4192" stroke-width="1.25" fill="none"/>
<path d="M329.58799999999997,268.688L333.812,272.91200000000003M333.812,268.688L329.58799999999997,272.91200000000003" stroke="#3c4192" stroke-width="1.25" fill="none"/>
<path d="M334.025,268.42400000000004L334.025,273.176M331.96732364060813,269.612L336.0826763593918,271.988M336.0826763593918,269.612L331.96732364060813,271.988" stroke="#3c4192" stroke-width="1.25" fill="none"/>
<path d="M334.23799999999994,268.688L338.462,272.91200000000003M338.462,268.688L334.23799999999994,272.91200000000003" stroke="#3c4192" stroke-width="1.25" fill="none"/>
<path d="M336.387,270.8L340.963,270.8M338.675,268.512L338.675,273.088" stroke="#3c4192" stroke-width="1.25" fill="none"/>
<circle cx="341.0" cy="270.8" r="2.2880000000000003" fill="none" stroke="#b3232b" stroke-width="1.2"/>
<rect x="341.125" y="268.6" width="4.4" height="4.4" fill="none" stroke="#b3232b" stroke-width="1.2"/>
<polygon points="345.65,268.42400000000004 348.02599999999995,270.8 345.65,273.176 343.274,270.8" fill="none" stroke="#b3232b" stroke-width="1.2"/>
<rect x="345.775" y="268.6" width="4.4" height="4.4" fill="none" stroke="#b3232b" stroke-width="1.2"/>
<circle cx="350.3" cy="270.8" r="2.2880000000000003" fill="none" stroke="#b3232b" stroke-width="1.2"/>
<circle cx="363.2" cy="270.8" r="2.2880000000000003" fill="none" stroke="#b3232b" stroke-width="1.2"/>
<rect x="363.06666666666666" y="268.6" width="4.4" height="4.4" fill="none" stroke="#b3232b" stroke-width="1.2"/>
<polygon points="367.3333333333333,268.42400000000004 369.7093333333333,270.8 367.3333333333333,273.176 364.95733333333334,270.8" fill="none" stroke="#b3232b" stroke-width="1.2"/>
<path d="M367.28799999999995,268.688L371.512,272.91200000000003M371.512,268.688L367.28799999999995,272.91200000000003" stroke="#3c4192" stroke-width="1.25" fill="none"/>
<path d="M371.46666666666664,268.42400000000004L371.46666666666664,273.176M369.4089903072748,269.612L373.5243430260585,271.988M373.5243430260585,269.612L369.4089903072748,271.988" stroke="#3c4192" stroke-width="1.25" fill="none"/>
<path d="M371.4213333333333,268.688L375.6453333333333,272.91200000000003M375.6453333333333,268.688L371.4213333333333,272.91200000000003" stroke="#3c4192" stroke-width="1.25" fill="none"/>
<rect x="373.4" y="268.6" width="4.4" height="4.4" fill="none" stroke="#b3232b" stroke-width="1.2"/>
<circle cx="377.66666666666663" cy="270.8" r="2.2880000000000003" fill="none" stroke="#b3232b" stroke-width="1.2"/>
<rect x="377.53333333333336" y="268.6" width="4.4" height="4.4" fill="none" stroke="#b3232b" stroke-width="1.2"/>
<polygon points="381.8,268.42400000000004 384.176,270.8 381.8,273.176 379.42400000000004,270.8" fill="none" stroke="#b3232b" stroke-width="1.2"/>
<path d="M392.33799999999997,268.688L396.562,272.91200000000003M396.562,268.688L392.33799999999997,272.91200000000003" stroke="#3c4192" stroke-width="1.25" fill="none"/>
<path d="M396.51666666666665,268.42400000000004L396.51666666666665,273.176M394.4589903072748,269.612L398.5743430260585,271.988M398.5743430260585,269.612L394.4589903072748,271.988" stroke="#3c4192" stroke-width="1.25" fill="none"/>
<path d="M396.4713333333333,268.688L400.69533333333334,272.91200000000003M400.69533333333334,268.688L396.4713333333333,272.91200000000003" stroke="#3c4192" stroke-width="1.25" fill="none"/>
<path d="M398.36199999999997,270.8L402.938,270.8M400.65,268.512L400.65,273.088" stroke="#3c4192" stroke-width="1.25" fill="none"/>
<path d="M400.6046666666666,268.688L404.82866666666666,272.91200000000003M404.82866666666666,268.688L400.6046666666666,272.91200000000003" stroke="#3c4192" stroke-width="1.25" fill="none"/>
<circle cx="404.7833333333333" cy="270.8" r="2.2880000000000003" fill="none" stroke="#b3232b" stroke-width="1.2"/>
<rect x="404.65" y="268.6" width="4.4" height="4.4" fill="none" stroke="#b3232b" stroke-width="1.2"/>
<polygon points="408.91666666666663,268.42400000000004 411.2926666666666,270.8 408.91666666666663,273.176 406.54066666666665,270.8" fill="none" stroke="#b3232b" stroke-width="1.2"/>
<rect x="408.78333333333336" y="268.6" width="4.4" height="4.4" fill="none" stroke="#b3232b" stroke-width="1.2"/>
<circle cx="413.05" cy="270.8" r="2.2880000000000003" fill="none" stroke="#b3232b" stroke-width="1.2"/>
<path d="M420.78799999999995,268.688L425.012,272.91200000000003M425.012,268.688L420.78799999999995,272.91200000000003" stroke="#3c4192" stroke-width="1.25" fill="none"/>
<path d="M425.22499999999997,268.42400000000004L425.22499999999997,273.176M423.1673236406081,269.612L427.2826763593918,271.988M427.2826763593918,269.612L423.1673236406081,271.988" stroke="#3c4192" stroke-width="1.25" fill="none"/>
<path d="M425.43799999999993,268.688L429.662,272.91200000000003M429.662,268.688L425.43799999999993,272.91200000000003" stroke="#3c4192" stroke-width="1.25" fill="none"/>
<path d="M427.587,270.8L432.163,270.8M429.875,268.512L429.875,273.088" stroke="#3c4192" stroke-width="1.25" fill="none"/>
<circle cx="432.2" cy="270.8" r="2.2880000000000003" fill="none" stroke="#b3232b" stroke-width="1.2"/>
<rect x="432.325" y="268.6" width="4.4" height="4.4" fill="none" stroke="#b3232b" stroke-width="1.2"/>
<polygon points="436.84999999999997,268.42400000000004 439.22599999999994,270.8 436.84999999999997,273.176 434.474,270.8" fill="none" stroke="#b3232b" stroke-width="1.2"/>
<rect x="436.97499999999997" y="268.6" width="4.4" height="4.4" fill="none" stroke="#b3232b" stroke-width="1.2"/>
<circle cx="441.5" cy="270.8" r="2.2880000000000003" fill="none" stroke="#b3232b" stroke-width="1.2"/>
<path d="M455.188,268.688L459.41200000000003,272.91200000000003M459.41200000000003,268.688L455.188,272.91200000000003" stroke="#3c4192" stroke-width="1.25" fill="none"/>
<path d="M459.3666666666667,268.42400000000004L459.3666666666667,273.176M457.3089903072748,269.612L461.4243430260585,271.988M461.4243430260585,269.612L457.3089903072748,271.988" stroke="#3c4192" stroke-width="1.25" fill="none"/>
<path d="M459.3213333333333,268.688L463.54533333333336,272.91200000000003M463.54533333333336,268.688L459.3213333333333,272.91200000000003" stroke="#3c4192" stroke-width="1.25" fill="none"/>
<path d="M461.212,270.8L465.788,270.8M463.5,268.512L463.5,273.088" stroke="#3c4192" stroke-width="1.25" fill="none"/>
<circle cx="465.56666666666666" cy="270.8" r="2.2880000000000003" fill="none" stroke="#b3232b" stroke-width="1.2"/>
<rect x="465.43333333333334" y="268.6" width="4.4" height="4.4" fill="none" stroke="#b3232b" stroke-width="1.2"/>
<polygon points="469.7,268.42400000000004 472.07599999999996,270.8 469.7,273.176 467.324,270.8" fill="none" stroke="#b3232b" stroke-width="1.2"/>
<path d="M469.6546666666666,268.688L473.8786666666667,272.91200000000003M473.8786666666667,268.688L469.6546666666666,272.91200000000003" stroke="#3c4192" stroke-width="1.25" fill="none"/>
<path d="M473.83333333333337,268.42400000000004L473.83333333333337,273.176M471.7756569739415,269.612L475.8910096927252,271.988M475.8910096927252,269.612L471.7756569739415,271.988" stroke="#3c4192" stroke-width="1.25" fill="none"/>
<path d="M473.788,268.688L478.01200000000006,272.91200000000003M478.01200000000006,268.688L473.788,272.91200000000003" stroke="#3c4192" stroke-width="1.25" fill="none"/>
<path d="M487.188,268.688L491.41200000000003,272.91200000000003M491.41200000000003,268.688L487.188,272.91200000000003" stroke="#3c4192" stroke-width="1.25" fill="none"/>
<path d="M491.3666666666667,268.42400000000004L491.3666666666667,273.176M489.3089903072748,269.612L493.4243430260585,271.988M493.4243430260585,269.612L489.3089903072748,271.988" stroke="#3c4192" stroke-width="1.25" fill="none"/>
<path d="M491.3213333333333,268.688L495.54533333333336,272.91200000000003M495.54533333333336,268.688L491.3213333333333,272.91200000000003" stroke="#3c4192" stroke-width="1.25" fill="none"/>
<path d="M493.212,270.8L497.788,270.8M495.5,268.512L495.5,273.088" stroke="#3c4192" stroke-width="1.25" fill="none"/>
<circle cx="497.56666666666666" cy="270.8" r="2.2880000000000003" fill="none" stroke="#b3232b" stroke-width="1.2"/>
<rect x="497.43333333333334" y="268.6" width="4.4" height="4.4" fill="none" stroke="#b3232b" stroke-width="1.2"/>
<polygon points="501.7,268.42400000000004 504.07599999999996,270.8 501.7,273.176 499.324,270.8" fill="none" stroke="#b3232b" stroke-width="1.2"/>
<path d="M501.6546666666666,268.688L505.8786666666667,272.91200000000003M505.8786666666667,268.688L501.6546666666666,272.91200000000003" stroke="#3c4192" stroke-width="1.25" fill="none"/>
<path d="M505.83333333333337,268.42400000000004L505.83333333333337,273.176M503.7756569739415,269.612L507.8910096927252,271.988M507.8910096927252,269.612L503.7756569739415,271.988" stroke="#3c4192" stroke-width="1.25" fill="none"/>
<path d="M505.788,268.688L510.01200000000006,272.91200000000003M510.01200000000006,268.688L505.788,272.91200000000003" stroke="#3c4192" stroke-width="1.25" fill="none"/>
<line x1="74.9" y1="267" x2="80.1" y2="267" stroke="#b3232b" stroke-width="1.3"/>
<polygon points="83.25,263.65 85.85,268.33 80.65,268.33" fill="none" stroke="#b3232b" stroke-width="1.15" stroke-linejoin="miter"/>
<line x1="110.15" y1="218.75" x2="115.35" y2="218.75" stroke="#b3232b" stroke-width="1.3"/>
<path d="M110.15,244.5L115.35,244.5M112.75,241.9L112.75,247.1" stroke="#3c4192" stroke-width="1.3" fill="none"/>
<polygon points="112.75,249.4 115.35,254.08 110.15,254.08" fill="none" stroke="#b3232b" stroke-width="1.15" stroke-linejoin="miter"/>
<path d="M142.5,178.5L142.5,187.5M138.60288568297003,180.75L146.39711431702997,185.25M146.39711431702997,180.75L138.60288568297003,185.25" stroke="#000" stroke-width="2.0" stroke-linecap="round" fill="none"/>
<line x1="136.9" y1="192.5" x2="142.1" y2="192.5" stroke="#b3232b" stroke-width="1.3"/>
<polygon points="145.75,189.4 148.35,194.08 143.15,194.08" fill="none" stroke="#b3232b" stroke-width="1.15" stroke-linejoin="miter"/>
<circle cx="142.5" cy="202" r="2.6" fill="none" stroke="#b3232b" stroke-width="1.15"/>
<rect x="144.0" y="207.0" width="5.0" height="5.0" fill="none" stroke="#b3232b" stroke-width="1.2"/>
<polygon points="140,209.8 142.7,212.5 140,215.2 137.3,212.5" fill="none" stroke="#b3232b" stroke-width="1.15"/>
<line x1="172.4" y1="213" x2="177.6" y2="213" stroke="#b3232b" stroke-width="1.3"/>
<polygon points="175,218.15 177.6,222.83 172.4,222.83" fill="none" stroke="#b3232b" stroke-width="1.15" stroke-linejoin="miter"/>
<circle cx="171.5" cy="228.75" r="2.6" fill="none" stroke="#b3232b" stroke-width="1.15"/>
<polygon points="177.5,226.05 180.2,228.75 177.5,231.45 174.8,228.75" fill="none" stroke="#b3232b" stroke-width="1.15"/>
<path d="M172.4,241.75L177.6,241.75M175,239.15L175,244.35" stroke="#3c4192" stroke-width="1.3" fill="none"/>
<polygon points="242,226.15 244.6,230.83 239.4,230.83" fill="none" stroke="#b3232b" stroke-width="1.15" stroke-linejoin="miter"/>
<polygon points="275.5,249.4 278.1,254.08 272.9,254.08" fill="none" stroke="#b3232b" stroke-width="1.15" stroke-linejoin="miter"/>
<circle cx="309.5" cy="217" r="2.6" fill="none" stroke="#b3232b" stroke-width="1.15"/>
<polygon points="309.5,252.9 312.1,257.58 306.9,257.58" fill="none" stroke="#b3232b" stroke-width="1.15" stroke-linejoin="miter"/>
<circle cx="340.75" cy="241.25" r="2.6" fill="none" stroke="#b3232b" stroke-width="1.15"/>
<polygon points="340.75,261.15 343.35,265.83 338.15,265.83" fill="none" stroke="#b3232b" stroke-width="1.15" stroke-linejoin="miter"/>
<line x1="367.4" y1="250.75" x2="372.6" y2="250.75" stroke="#b3232b" stroke-width="1.3"/>
<polygon points="375.5,247.4 378.1,252.08 372.9,252.08" fill="none" stroke="#b3232b" stroke-width="1.15" stroke-linejoin="miter"/>
<path d="M370.1,255.6L374.9,260.4M374.9,255.6L370.1,260.4" stroke="#3c4192" stroke-width="1.3" fill="none"/>
<circle cx="404.5" cy="217.5" r="2.6" fill="none" stroke="#b3232b" stroke-width="1.15"/>
<polygon points="404.5,260.4 407.1,265.08 401.9,265.08" fill="none" stroke="#b3232b" stroke-width="1.15" stroke-linejoin="miter"/>
<circle cx="432.9" cy="220.4" r="2.6" fill="none" stroke="#b3232b" stroke-width="1.15"/>
<polygon points="432.9,223.6 435.5,228.28 430.29999999999995,228.28" fill="none" stroke="#b3232b" stroke-width="1.15" stroke-linejoin="miter"/>
<circle cx="466.7" cy="220.8" r="2.6" fill="none" stroke="#b3232b" stroke-width="1.15"/>
<polygon points="466.7,224.5 469.3,229.18 464.09999999999997,229.18" fill="none" stroke="#b3232b" stroke-width="1.15" stroke-linejoin="miter"/>
<circle cx="500.2" cy="214.6" r="2.6" fill="none" stroke="#b3232b" stroke-width="1.15"/>
<polygon points="500.2,227.0 502.8,231.68 497.59999999999997,231.68" fill="none" stroke="#b3232b" stroke-width="1.15" stroke-linejoin="miter"/>
<path d="M62.0,156.0H518.3V275.0" fill="none" stroke="#000" stroke-width="1.6"/>
<line x1="62.0" y1="155.2" x2="62.0" y2="276.0" stroke="#000" stroke-width="1.9"/>
<line x1="61.0" y1="275.0" x2="519.0999999999999" y2="275.0" stroke="#000" stroke-width="1.9"/>
<text x="76.05" y="291.0" font-size="12.7" font-weight="bold" text-anchor="middle" fill="#000">F1</text>
<text x="109.1" y="291.0" font-size="12.7" font-weight="bold" text-anchor="middle" fill="#000">F2</text>
<text x="141.55" y="291.0" font-size="12.7" font-weight="bold" text-anchor="middle" fill="#000">F3</text>
<text x="174.4" y="291.0" font-size="12.7" font-weight="bold" text-anchor="middle" fill="#000">F5</text>
<text x="207.05" y="291.0" font-size="12.7" font-weight="bold" text-anchor="middle" fill="#000">F6</text>
<text x="238.8" y="291.0" font-size="12.7" font-weight="bold" text-anchor="middle" fill="#000">F7</text>
<text x="271.15" y="291.0" font-size="12.7" font-weight="bold" text-anchor="middle" fill="#000">F8</text>
<text x="303.95" y="291.0" font-size="12.7" font-weight="bold" text-anchor="middle" fill="#000">F9</text>
<text x="336.4" y="291.0" font-size="12.7" font-weight="bold" text-anchor="middle" fill="#000">F10</text>
<text x="368.75" y="291.0" font-size="12.7" font-weight="bold" text-anchor="middle" fill="#000">F13</text>
<text x="401.1" y="291.0" font-size="12.7" font-weight="bold" text-anchor="middle" fill="#000">F14</text>
<text x="433.4" y="291.0" font-size="12.7" font-weight="bold" text-anchor="middle" fill="#000">F16</text>
<text x="466.5" y="291.0" font-size="12.7" font-weight="bold" text-anchor="middle" fill="#000">F17</text>
<text x="499.4" y="291.0" font-size="12.7" font-weight="bold" text-anchor="middle" fill="#000">F18</text>
<line x1="62.0" y1="347.83" x2="518.3" y2="347.83" stroke="#c4c4c4" stroke-width="1.3"/>
<line x1="62.0" y1="387.67" x2="518.3" y2="387.67" stroke="#c4c4c4" stroke-width="1.3"/>
<line x1="59.8" y1="308.00" x2="62.0" y2="308.00" stroke="#000" stroke-width="1.5"/>
<text x="57.9" y="312.00" font-size="12" text-anchor="end" fill="#000" stroke="#000" stroke-width="0.3">10</text>
<line x1="59.8" y1="347.83" x2="62.0" y2="347.83" stroke="#000" stroke-width="1.5"/>
<text x="57.9" y="352.23" font-size="12" text-anchor="end" fill="#000" stroke="#000" stroke-width="0.3">1</text>
<line x1="59.8" y1="387.67" x2="62.0" y2="387.67" stroke="#000" stroke-width="1.5"/>
<text x="57.9" y="391.57" font-size="12" text-anchor="end" fill="#000" stroke="#000" stroke-width="0.3">0.1</text>
<line x1="59.8" y1="427.50" x2="62.0" y2="427.50" stroke="#000" stroke-width="1.5"/>
<text x="57.9" y="431.70" font-size="12" text-anchor="end" fill="#000" stroke="#000" stroke-width="0.3">0.01</text>
<text transform="translate(30.0,367.2) rotate(-90)" font-size="10" text-anchor="middle" textLength="128.4" lengthAdjust="spacing" fill="#000" stroke="#000" stroke-width="0.45">Relative Interaction Frequency</text>
<text x="66.2" y="327.7" font-size="21" fill="#000">R5</text>
<path d="M69.33800000000001,421.188L73.562,425.41200000000003M73.562,421.188L69.33800000000001,425.41200000000003" stroke="#3c4192" stroke-width="1.25" fill="none"/>
<path d="M73.51666666666667,420.92400000000004L73.51666666666667,425.676M71.45899030727485,422.112L75.57434302605849,424.488M75.57434302605849,422.112L71.45899030727485,424.488" stroke="#3c4192" stroke-width="1.25" fill="none"/>
<path d="M73.47133333333335,421.188L77.69533333333334,425.41200000000003M77.69533333333334,421.188L73.47133333333335,425.41200000000003" stroke="#3c4192" stroke-width="1.25" fill="none"/>
<circle cx="77.65" cy="423.3" r="2.2880000000000003" fill="none" stroke="#b3232b" stroke-width="1.2"/>
<rect x="77.51666666666667" y="421.1" width="4.4" height="4.4" fill="none" stroke="#b3232b" stroke-width="1.2"/>
<polygon points="81.78333333333333,420.92400000000004 84.15933333333334,423.3 81.78333333333333,425.676 79.40733333333333,423.3" fill="none" stroke="#b3232b" stroke-width="1.2"/>
<circle cx="83.85000000000001" cy="423.3" r="2.2880000000000003" fill="none" stroke="#7d6a48" stroke-width="1.2"/>
<circle cx="85.91666666666667" cy="423.3" r="2.2880000000000003" fill="none" stroke="#7d6a48" stroke-width="1.2"/>
<rect x="85.78333333333333" y="421.1" width="4.4" height="4.4" fill="none" stroke="#b3232b" stroke-width="1.2"/>
<circle cx="90.05000000000001" cy="423.3" r="2.2880000000000003" fill="none" stroke="#b3232b" stroke-width="1.2"/>
<circle cx="103.3" cy="423.3" r="2.2880000000000003" fill="none" stroke="#7d6a48" stroke-width="1.2"/>
<path d="M103.25466666666667,421.188L107.47866666666665,425.41200000000003M107.47866666666665,421.188L103.25466666666667,425.41200000000003" stroke="#3c4192" stroke-width="1.25" fill="none"/>
<path d="M107.43333333333334,420.92400000000004L107.43333333333334,425.676M105.37565697394152,422.112L109.49100969272516,424.488M109.49100969272516,422.112L105.37565697394152,424.488" stroke="#3c4192" stroke-width="1.25" fill="none"/>
<circle cx="109.5" cy="423.3" r="2.2880000000000003" fill="none" stroke="#b3232b" stroke-width="1.2"/>
<rect x="109.36666666666666" y="421.1" width="4.4" height="4.4" fill="none" stroke="#b3232b" stroke-width="1.2"/>
<polygon points="113.63333333333333,420.92400000000004 116.00933333333333,423.3 113.63333333333333,425.676 111.25733333333332,423.3" fill="none" stroke="#b3232b" stroke-width="1.2"/>
<path d="M113.58800000000001,421.188L117.812,425.41200000000003M117.812,421.188L113.58800000000001,425.41200000000003" stroke="#3c4192" stroke-width="1.25" fill="none"/>
<path d="M115.47866666666667,423.3L120.05466666666666,423.3M117.76666666666667,421.012L117.76666666666667,425.588" stroke="#3c4192" stroke-width="1.25" fill="none"/>
<rect x="117.63333333333333" y="421.1" width="4.4" height="4.4" fill="none" stroke="#b3232b" stroke-width="1.2"/>
<polygon points="121.9,421.012 124.188,425.1304 119.61200000000001,425.1304" fill="none" stroke="#b3232b" stroke-width="1.2" stroke-linejoin="miter"/>
<circle cx="200.45" cy="423.3" r="2.2880000000000003" fill="none" stroke="#b3232b" stroke-width="1.2"/>
<rect x="200.31666666666666" y="421.1" width="4.4" height="4.4" fill="none" stroke="#b3232b" stroke-width="1.2"/>
<polygon points="204.58333333333331,420.92400000000004 206.95933333333332,423.3 204.58333333333331,425.676 202.2073333333333,423.3" fill="none" stroke="#b3232b" stroke-width="1.2"/>
<rect x="204.45" y="421.1" width="4.4" height="4.4" fill="none" stroke="#b3232b" stroke-width="1.2"/>
<circle cx="208.71666666666667" cy="423.3" r="2.2880000000000003" fill="none" stroke="#b3232b" stroke-width="1.2"/>
<rect x="208.58333333333334" y="421.1" width="4.4" height="4.4" fill="none" stroke="#b3232b" stroke-width="1.2"/>
<path d="M210.738,421.188L214.962,425.41200000000003M214.962,421.188L210.738,425.41200000000003" stroke="#3c4192" stroke-width="1.25" fill="none"/>
<path d="M214.91666666666666,420.92400000000004L214.91666666666666,425.676M212.85899030727484,422.112L216.97434302605848,424.488M216.97434302605848,422.112L212.85899030727484,424.488" stroke="#3c4192" stroke-width="1.25" fill="none"/>
<path d="M214.87133333333333,421.188L219.09533333333331,425.41200000000003M219.09533333333331,421.188L214.87133333333333,425.41200000000003" stroke="#3c4192" stroke-width="1.25" fill="none"/>
<path d="M216.76199999999997,423.3L221.338,423.3M219.04999999999998,421.012L219.04999999999998,425.588" stroke="#3c4192" stroke-width="1.25" fill="none"/>
<circle cx="234.2" cy="423.3" r="2.2880000000000003" fill="none" stroke="#7d6a48" stroke-width="1.2"/>
<circle cx="236.26666666666665" cy="423.3" r="2.2880000000000003" fill="none" stroke="#7d6a48" stroke-width="1.2"/>
<path d="M236.22133333333332,421.188L240.4453333333333,425.41200000000003M240.4453333333333,421.188L236.22133333333332,425.41200000000003" stroke="#3c4192" stroke-width="1.25" fill="none"/>
<path d="M240.39999999999998,420.92400000000004L240.39999999999998,425.676M238.34232364060816,422.112L242.4576763593918,424.488M242.4576763593918,422.112L238.34232364060816,424.488" stroke="#3c4192" stroke-width="1.25" fill="none"/>
<path d="M240.35466666666667,421.188L244.57866666666666,425.41200000000003M244.57866666666666,421.188L240.35466666666667,425.41200000000003" stroke="#3c4192" stroke-width="1.25" fill="none"/>
<circle cx="244.53333333333333" cy="423.3" r="2.2880000000000003" fill="none" stroke="#b3232b" stroke-width="1.2"/>
<rect x="244.4" y="421.1" width="4.4" height="4.4" fill="none" stroke="#b3232b" stroke-width="1.2"/>
<polygon points="248.66666666666666,420.92400000000004 251.04266666666666,423.3 248.66666666666666,425.676 246.29066666666665,423.3" fill="none" stroke="#b3232b" stroke-width="1.2"/>
<rect x="248.53333333333333" y="421.1" width="4.4" height="4.4" fill="none" stroke="#b3232b" stroke-width="1.2"/>
<circle cx="252.79999999999998" cy="423.3" r="2.2880000000000003" fill="none" stroke="#b3232b" stroke-width="1.2"/>
<circle cx="271.7" cy="423.3" r="2.2880000000000003" fill="none" stroke="#b3232b" stroke-width="1.2"/>
<rect x="271.56666666666666" y="421.1" width="4.4" height="4.4" fill="none" stroke="#b3232b" stroke-width="1.2"/>
<polygon points="275.8333333333333,420.92400000000004 278.2093333333333,423.3 275.8333333333333,425.676 273.45733333333334,423.3" fill="none" stroke="#b3232b" stroke-width="1.2"/>
<path d="M275.78799999999995,421.188L280.012,425.41200000000003M280.012,421.188L275.78799999999995,425.41200000000003" stroke="#3c4192" stroke-width="1.25" fill="none"/>
<path d="M279.96666666666664,420.92400000000004L279.96666666666664,425.676M277.9089903072748,422.112L282.0243430260585,424.488M282.0243430260585,422.112L277.9089903072748,424.488" stroke="#3c4192" stroke-width="1.25" fill="none"/>
<path d="M279.9213333333333,421.188L284.1453333333333,425.41200000000003M284.1453333333333,421.188L279.9213333333333,425.41200000000003" stroke="#3c4192" stroke-width="1.25" fill="none"/>
<path d="M281.81199999999995,423.3L286.388,423.3M284.09999999999997,421.012L284.09999999999997,425.588" stroke="#3c4192" stroke-width="1.25" fill="none"/>
<rect x="283.96666666666664" y="421.1" width="4.4" height="4.4" fill="none" stroke="#b3232b" stroke-width="1.2"/>
<circle cx="288.23333333333335" cy="423.3" r="2.2880000000000003" fill="none" stroke="#b3232b" stroke-width="1.2"/>
<rect x="288.1" y="421.1" width="4.4" height="4.4" fill="none" stroke="#b3232b" stroke-width="1.2"/>
<path d="M303.58799999999997,421.188L307.812,425.41200000000003M307.812,421.188L303.58799999999997,425.41200000000003" stroke="#3c4192" stroke-width="1.25" fill="none"/>
<path d="M307.76666666666665,420.92400000000004L307.76666666666665,425.676M305.7089903072748,422.112L309.8243430260585,424.488M309.8243430260585,422.112L305.7089903072748,424.488" stroke="#3c4192" stroke-width="1.25" fill="none"/>
<path d="M307.7213333333333,421.188L311.94533333333334,425.41200000000003M311.94533333333334,421.188L307.7213333333333,425.41200000000003" stroke="#3c4192" stroke-width="1.25" fill="none"/>
<path d="M309.61199999999997,423.3L314.188,423.3M311.9,421.012L311.9,425.588" stroke="#3c4192" stroke-width="1.25" fill="none"/>
<circle cx="313.96666666666664" cy="423.3" r="2.2880000000000003" fill="none" stroke="#b3232b" stroke-width="1.2"/>
<rect x="313.8333333333333" y="421.1" width="4.4" height="4.4" fill="none" stroke="#b3232b" stroke-width="1.2"/>
<polygon points="318.09999999999997,420.92400000000004 320.47599999999994,423.3 318.09999999999997,425.676 315.724,423.3" fill="none" stroke="#b3232b" stroke-width="1.2"/>
<path d="M318.0546666666666,421.188L322.27866666666665,425.41200000000003M322.27866666666665,421.188L318.0546666666666,425.41200000000003" stroke="#3c4192" stroke-width="1.25" fill="none"/>
<path d="M322.23333333333335,420.92400000000004L322.23333333333335,425.676M320.1756569739415,422.112L324.2910096927252,424.488M324.2910096927252,422.112L320.1756569739415,424.488" stroke="#3c4192" stroke-width="1.25" fill="none"/>
<path d="M322.188,421.188L326.41200000000003,425.41200000000003M326.41200000000003,421.188L322.188,425.41200000000003" stroke="#3c4192" stroke-width="1.25" fill="none"/>
<circle cx="341.95" cy="423.3" r="2.2880000000000003" fill="none" stroke="#b3232b" stroke-width="1.2"/>
<rect x="341.81666666666666" y="421.1" width="4.4" height="4.4" fill="none" stroke="#b3232b" stroke-width="1.2"/>
<polygon points="346.0833333333333,420.92400000000004 348.4593333333333,423.3 346.0833333333333,425.676 343.70733333333334,423.3" fill="none" stroke="#b3232b" stroke-width="1.2"/>
<path d="M346.03799999999995,421.188L350.262,425.41200000000003M350.262,421.188L346.03799999999995,425.41200000000003" stroke="#3c4192" stroke-width="1.25" fill="none"/>
<path d="M350.21666666666664,420.92400000000004L350.21666666666664,425.676M348.1589903072748,422.112L352.2743430260585,424.488M352.2743430260585,422.112L348.1589903072748,424.488" stroke="#3c4192" stroke-width="1.25" fill="none"/>
<path d="M350.1713333333333,421.188L354.3953333333333,425.41200000000003M354.3953333333333,421.188L350.1713333333333,425.41200000000003" stroke="#3c4192" stroke-width="1.25" fill="none"/>
<rect x="352.15" y="421.1" width="4.4" height="4.4" fill="none" stroke="#b3232b" stroke-width="1.2"/>
<circle cx="356.41666666666663" cy="423.3" r="2.2880000000000003" fill="none" stroke="#b3232b" stroke-width="1.2"/>
<rect x="356.28333333333336" y="421.1" width="4.4" height="4.4" fill="none" stroke="#b3232b" stroke-width="1.2"/>
<polygon points="360.55,420.92400000000004 362.926,423.3 360.55,425.676 358.17400000000004,423.3" fill="none" stroke="#b3232b" stroke-width="1.2"/>
<path d="M374.188,421.188L378.41200000000003,425.41200000000003M378.41200000000003,421.188L374.188,425.41200000000003" stroke="#3c4192" stroke-width="1.25" fill="none"/>
<path d="M378.3666666666667,420.92400000000004L378.3666666666667,425.676M376.3089903072748,422.112L380.4243430260585,424.488M380.4243430260585,422.112L376.3089903072748,424.488" stroke="#3c4192" stroke-width="1.25" fill="none"/>
<path d="M378.3213333333333,421.188L382.54533333333336,425.41200000000003M382.54533333333336,421.188L378.3213333333333,425.41200000000003" stroke="#3c4192" stroke-width="1.25" fill="none"/>
<path d="M380.212,423.3L384.788,423.3M382.5,421.012L382.5,425.588" stroke="#3c4192" stroke-width="1.25" fill="none"/>
<path d="M382.45466666666664,421.188L386.6786666666667,425.41200000000003M386.6786666666667,421.188L382.45466666666664,425.41200000000003" stroke="#3c4192" stroke-width="1.25" fill="none"/>
<circle cx="386.6333333333333" cy="423.3" r="2.2880000000000003" fill="none" stroke="#b3232b" stroke-width="1.2"/>
<rect x="386.5" y="421.1" width="4.4" height="4.4" fill="none" stroke="#b3232b" stroke-width="1.2"/>
<polygon points="390.76666666666665,420.92400000000004 393.1426666666666,423.3 390.76666666666665,425.676 388.3906666666667,423.3" fill="none" stroke="#b3232b" stroke-width="1.2"/>
<rect x="390.6333333333334" y="421.1" width="4.4" height="4.4" fill="none" stroke="#b3232b" stroke-width="1.2"/>
<circle cx="394.90000000000003" cy="423.3" r="2.2880000000000003" fill="none" stroke="#b3232b" stroke-width="1.2"/>
<path d="M410.33799999999997,421.188L414.562,425.41200000000003M414.562,421.188L410.33799999999997,425.41200000000003" stroke="#3c4192" stroke-width="1.25" fill="none"/>
<path d="M414.51666666666665,420.92400000000004L414.51666666666665,425.676M412.4589903072748,422.112L416.5743430260585,424.488M416.5743430260585,422.112L412.4589903072748,424.488" stroke="#3c4192" stroke-width="1.25" fill="none"/>
<path d="M414.4713333333333,421.188L418.69533333333334,425.41200000000003M418.69533333333334,421.188L414.4713333333333,425.41200000000003" stroke="#3c4192" stroke-width="1.25" fill="none"/>
<path d="M416.36199999999997,423.3L420.938,423.3M418.65,421.012L418.65,425.588" stroke="#3c4192" stroke-width="1.25" fill="none"/>
<circle cx="420.71666666666664" cy="423.3" r="2.2880000000000003" fill="none" stroke="#b3232b" stroke-width="1.2"/>
<rect x="420.5833333333333" y="421.1" width="4.4" height="4.4" fill="none" stroke="#b3232b" stroke-width="1.2"/>
<polygon points="424.84999999999997,420.92400000000004 427.22599999999994,423.3 424.84999999999997,425.676 422.474,423.3" fill="none" stroke="#b3232b" stroke-width="1.2"/>
<rect x="424.71666666666664" y="421.1" width="4.4" height="4.4" fill="none" stroke="#b3232b" stroke-width="1.2"/>
<circle cx="428.98333333333335" cy="423.3" r="2.2880000000000003" fill="none" stroke="#b3232b" stroke-width="1.2"/>
<rect x="428.85" y="421.1" width="4.4" height="4.4" fill="none" stroke="#b3232b" stroke-width="1.2"/>
<path d="M447.08799999999997,421.188L451.312,425.41200000000003M451.312,421.188L447.08799999999997,425.41200000000003" stroke="#3c4192" stroke-width="1.25" fill="none"/>
<path d="M451.26666666666665,420.92400000000004L451.26666666666665,425.676M449.2089903072748,422.112L453.3243430260585,424.488M453.3243430260585,422.112L449.2089903072748,424.488" stroke="#3c4192" stroke-width="1.25" fill="none"/>
<path d="M451.2213333333333,421.188L455.44533333333334,425.41200000000003M455.44533333333334,421.188L451.2213333333333,425.41200000000003" stroke="#3c4192" stroke-width="1.25" fill="none"/>
<path d="M453.11199999999997,423.3L457.688,423.3M455.4,421.012L455.4,425.588" stroke="#3c4192" stroke-width="1.25" fill="none"/>
<circle cx="457.46666666666664" cy="423.3" r="2.2880000000000003" fill="none" stroke="#b3232b" stroke-width="1.2"/>
<rect x="457.3333333333333" y="421.1" width="4.4" height="4.4" fill="none" stroke="#b3232b" stroke-width="1.2"/>
<polygon points="461.59999999999997,420.92400000000004 463.97599999999994,423.3 461.59999999999997,425.676 459.224,423.3" fill="none" stroke="#b3232b" stroke-width="1.2"/>
<rect x="461.46666666666664" y="421.1" width="4.4" height="4.4" fill="none" stroke="#b3232b" stroke-width="1.2"/>
<circle cx="465.73333333333335" cy="423.3" r="2.2880000000000003" fill="none" stroke="#b3232b" stroke-width="1.2"/>
<circle cx="467.8" cy="423.3" r="2.2880000000000003" fill="none" stroke="#b3232b" stroke-width="1.2"/>
<path d="M479.28799999999995,421.188L483.512,425.41200000000003M483.512,421.188L479.28799999999995,425.41200000000003" stroke="#3c4192" stroke-width="1.25" fill="none"/>
<path d="M483.46666666666664,420.92400000000004L483.46666666666664,425.676M481.4089903072748,422.112L485.5243430260585,424.488M485.5243430260585,422.112L481.4089903072748,424.488" stroke="#3c4192" stroke-width="1.25" fill="none"/>
<path d="M483.4213333333333,421.188L487.6453333333333,425.41200000000003M487.6453333333333,421.188L483.4213333333333,425.41200000000003" stroke="#3c4192" stroke-width="1.25" fill="none"/>
<path d="M485.31199999999995,423.3L489.888,423.3M487.59999999999997,421.012L487.59999999999997,425.588" stroke="#3c4192" stroke-width="1.25" fill="none"/>
<circle cx="489.66666666666663" cy="423.3" r="2.2880000000000003" fill="none" stroke="#b3232b" stroke-width="1.2"/>
<rect x="489.5333333333333" y="421.1" width="4.4" height="4.4" fill="none" stroke="#b3232b" stroke-width="1.2"/>
<polygon points="493.79999999999995,420.92400000000004 496.17599999999993,423.3 493.79999999999995,425.676 491.424,423.3" fill="none" stroke="#b3232b" stroke-width="1.2"/>
<path d="M493.75466666666665,421.188L497.9786666666667,425.41200000000003M497.9786666666667,421.188L493.75466666666665,425.41200000000003" stroke="#3c4192" stroke-width="1.25" fill="none"/>
<path d="M497.93333333333334,420.92400000000004L497.93333333333334,425.676M495.8756569739415,422.112L499.9910096927252,424.488M499.9910096927252,422.112L495.8756569739415,424.488" stroke="#3c4192" stroke-width="1.25" fill="none"/>
<path d="M497.888,421.188L502.112,425.41200000000003M502.112,421.188L497.888,425.41200000000003" stroke="#3c4192" stroke-width="1.25" fill="none"/>
<line x1="110.65" y1="411.25" x2="115.85" y2="411.25" stroke="#b3232b" stroke-width="1.3"/>
<path d="M147,347.5L147,356.5M143.10288568297003,349.75L150.89711431702997,354.25M150.89711431702997,349.75L143.10288568297003,354.25" stroke="#000" stroke-width="2.0" stroke-linecap="round" fill="none"/>
<line x1="144.4" y1="360.75" x2="149.6" y2="360.75" stroke="#b3232b" stroke-width="1.3"/>
<polygon points="147,364.9 149.6,369.58 144.4,369.58" fill="none" stroke="#b3232b" stroke-width="1.15" stroke-linejoin="miter"/>
<rect x="144.5" y="382.5" width="5.0" height="5.0" fill="none" stroke="#b3232b" stroke-width="1.2"/>
<circle cx="145.75" cy="418.75" r="2.6" fill="none" stroke="#b3232b" stroke-width="1.15"/>
<circle cx="138.5" cy="423.5" r="2.6" fill="none" stroke="#427d38" stroke-width="1.15"/>
<path d="M140.6,421.1L145.4,425.9M145.4,421.1L140.6,425.9" stroke="#3c4192" stroke-width="1.3" fill="none"/>
<rect x="145.0" y="421.0" width="5.0" height="5.0" fill="none" stroke="#b3232b" stroke-width="1.2"/>
<path d="M150.5,420.8L150.5,426.2M148.16173140978202,422.15L152.83826859021798,424.85M152.83826859021798,422.15L148.16173140978202,424.85" stroke="#3c4192" stroke-width="1.2" fill="none"/>
<rect x="152.0" y="421.0" width="5.0" height="5.0" fill="none" stroke="#427d38" stroke-width="1.2"/>
<line x1="174.4" y1="326.2" x2="179.6" y2="326.2" stroke="#b3232b" stroke-width="1.3"/>
<path d="M171.0,331L176.2,331M173.6,328.4L173.6,333.6" stroke="#3c4192" stroke-width="1.3" fill="none"/>
<circle cx="179.2" cy="330.6" r="2.6" fill="none" stroke="#b3232b" stroke-width="1.15"/>
<polygon points="171.9,336.8 174.6,339.5 171.9,342.2 169.20000000000002,339.5" fill="none" stroke="#b3232b" stroke-width="1.15"/>
<polygon points="176.6,336.2 179.2,340.88 174.0,340.88" fill="none" stroke="#b3232b" stroke-width="1.15" stroke-linejoin="miter"/>
<path d="M181.8,335.2L181.8,340.59999999999997M179.46173140978203,336.54999999999995L184.138268590218,339.25M184.138268590218,336.54999999999995L179.46173140978203,339.25" stroke="#3c4192" stroke-width="1.2" fill="none"/>
<rect x="170.2" y="344.9" width="5.0" height="5.0" fill="none" stroke="#b3232b" stroke-width="1.2"/>
<path d="M177.29999999999998,348.5L182.1,353.29999999999995M182.1,348.5L177.29999999999998,353.29999999999995" stroke="#3c4192" stroke-width="1.3" fill="none"/>
<circle cx="170.9" cy="423.5" r="2.6" fill="none" stroke="#427d38" stroke-width="1.15"/>
<line x1="174.4" y1="423.5" x2="179.6" y2="423.5" stroke="#3c4192" stroke-width="1.3"/>
<rect x="180.8" y="421.0" width="5.0" height="5.0" fill="none" stroke="#427d38" stroke-width="1.2"/>
<path d="M209.5,374.25L209.5,383.25M205.60288568297003,376.5L213.39711431702997,381.0M213.39711431702997,376.5L205.60288568297003,381.0" stroke="#000" stroke-width="2.0" stroke-linecap="round" fill="none"/>
<rect x="207.0" y="387.5" width="5.0" height="5.0" fill="none" stroke="#b3232b" stroke-width="1.2"/>
<line x1="206.9" y1="409.5" x2="212.1" y2="409.5" stroke="#b3232b" stroke-width="1.3"/>
<line x1="241.9" y1="365.75" x2="247.1" y2="365.75" stroke="#b3232b" stroke-width="1.3"/>
<rect x="242.0" y="380.5" width="5.0" height="5.0" fill="none" stroke="#b3232b" stroke-width="1.2"/>
<line x1="279.9" y1="416.25" x2="285.1" y2="416.25" stroke="#b3232b" stroke-width="1.3"/>
<polygon points="314.25,390.4 316.85,395.08 311.65,395.08" fill="none" stroke="#b3232b" stroke-width="1.15" stroke-linejoin="miter"/>
<circle cx="314.25" cy="410" r="2.6" fill="none" stroke="#b3232b" stroke-width="1.15"/>
<line x1="348.15" y1="394.25" x2="353.35" y2="394.25" stroke="#b3232b" stroke-width="1.3"/>
<polygon points="386.25,384.9 388.85,389.58 383.65,389.58" fill="none" stroke="#b3232b" stroke-width="1.15" stroke-linejoin="miter"/>
<circle cx="386.25" cy="415.75" r="2.6" fill="none" stroke="#b3232b" stroke-width="1.15"/>
<polygon points="421.9,377.4 424.5,382.08 419.29999999999995,382.08" fill="none" stroke="#b3232b" stroke-width="1.15" stroke-linejoin="miter"/>
<circle cx="421.9" cy="412.7" r="2.6" fill="none" stroke="#b3232b" stroke-width="1.15"/>
<polygon points="459.8,353.7 462.40000000000003,358.38 457.2,358.38" fill="none" stroke="#b3232b" stroke-width="1.15" stroke-linejoin="miter"/>
<circle cx="459.8" cy="379.6" r="2.6" fill="none" stroke="#b3232b" stroke-width="1.15"/>
<polygon points="491.2,357.79999999999995 493.8,362.47999999999996 488.59999999999997,362.47999999999996" fill="none" stroke="#b3232b" stroke-width="1.15" stroke-linejoin="miter"/>
<circle cx="491.2" cy="396.3" r="2.6" fill="none" stroke="#b3232b" stroke-width="1.15"/>
<path d="M62.0,308.0H518.3V427.5" fill="none" stroke="#000" stroke-width="1.6"/>
<line x1="62.0" y1="307.2" x2="62.0" y2="428.5" stroke="#000" stroke-width="1.9"/>
<line x1="61.0" y1="427.5" x2="519.0999999999999" y2="427.5" stroke="#000" stroke-width="1.9"/>
<text x="78.4" y="442.4" font-size="12.7" font-weight="bold" text-anchor="middle" fill="#000">F1</text>
<text x="115" y="442.4" font-size="12.7" font-weight="bold" text-anchor="middle" fill="#000">F2</text>
<text x="147.6" y="442.4" font-size="12.7" font-weight="bold" text-anchor="middle" fill="#000">F3</text>
<text x="176.6" y="442.4" font-size="12.7" font-weight="bold" text-anchor="middle" fill="#000">F5</text>
<text x="209" y="442.4" font-size="12.7" font-weight="bold" text-anchor="middle" fill="#000">F6</text>
<text x="245.5" y="442.4" font-size="12.7" font-weight="bold" text-anchor="middle" fill="#000">F7</text>
<text x="280.45" y="442.4" font-size="12.7" font-weight="bold" text-anchor="middle" fill="#000">F8</text>
<text x="317.05" y="442.4" font-size="12.7" font-weight="bold" text-anchor="middle" fill="#000">F10</text>
<text x="353.15" y="442.4" font-size="12.7" font-weight="bold" text-anchor="middle" fill="#000">F13</text>
<text x="388.85" y="442.4" font-size="12.7" font-weight="bold" text-anchor="middle" fill="#000">F14</text>
<text x="425.8" y="442.4" font-size="12.7" font-weight="bold" text-anchor="middle" fill="#000">F15</text>
<text x="461.35" y="442.4" font-size="12.7" font-weight="bold" text-anchor="middle" fill="#000">F17</text>
<text x="493.35" y="442.4" font-size="12.7" font-weight="bold" text-anchor="middle" fill="#000">F18</text>
<polygon points="43.2,448.6 47.800000000000004,453.2 43.2,457.8 38.6,453.2" fill="none" stroke="#b3232b" stroke-width="1.9"/>
<ellipse cx="43.2" cy="467.4" rx="4.4" ry="5.0" fill="none" stroke="#b3232b" stroke-width="1.9"/>
<polygon points="43.2,476.2 47.7,482.9 38.7,482.9" fill="none" stroke="#b3232b" stroke-width="1.9"/>
<rect x="39.1" y="488.7" width="8.2" height="8.6" fill="none" stroke="#b3232b" stroke-width="1.9"/>
<line x1="38.6" y1="506.6" x2="47.800000000000004" y2="506.6" stroke="#b3232b" stroke-width="1.9"/>
<text x="52.6" y="456.3" font-size="9.5" fill="#111" stroke="#111" stroke-width="0.35">B6 Thymocytes</text>
<text x="52.6" y="470.9" font-size="9.5" fill="#111" stroke="#111" stroke-width="0.35">B6 Thymocytes set 2</text>
<text x="52.6" y="483.2" font-size="9.5" fill="#111" stroke="#111" stroke-width="0.35">P2C2</text>
<text x="52.6" y="496.3" font-size="9.5" fill="#111" stroke="#111" stroke-width="0.35">Rag1 KO Thymocytes</text>
<text x="52.6" y="509.9" font-size="9.5" fill="#111" stroke="#111" stroke-width="0.35">Rag2 KO Thymocytes</text>
<path d="M209.79999999999998,455.3L214.6,461.9M214.6,455.3L209.79999999999998,461.9" stroke="#3c4192" stroke-width="1.7" fill="none"/>
<line x1="208.1" y1="472.3" x2="216.5" y2="472.3" stroke="#3c4192" stroke-width="1.8"/>
<path d="M212.2,482.2L212.2,489.40000000000003M209.2555136271329,484.1L215.14448637286708,487.5M215.14448637286708,484.1L209.2555136271329,487.5" stroke="#3c4192" stroke-width="1.6" fill="none"/>
<path d="M207.7,497.6L216.89999999999998,497.6M212.29999999999998,493.2L212.29999999999998,502" stroke="#3c4192" stroke-width="1.8" fill="none"/>
<text x="220.8" y="462.2" font-size="9.5" fill="#111" stroke="#111" stroke-width="0.35">Rag1 KO Splenocyes</text>
<text x="220.8" y="475.9" font-size="9.5" fill="#111" stroke="#111" stroke-width="0.35">Rag2 KO Splenocytes</text>
<text x="220.8" y="489.4" font-size="9.5" fill="#111" stroke="#111" stroke-width="0.35">Raw264.7</text>
<text x="220.8" y="501.1" font-size="9.5" fill="#111" stroke="#111" stroke-width="0.35">NIH3T3</text>
<rect x="373.3" y="454.1" width="9.6" height="9.0" fill="none" stroke="#427d38" stroke-width="1.8"/>
<ellipse cx="377.9" cy="474.25" rx="5.0" ry="5.1" fill="none" stroke="#427d38" stroke-width="1.8"/>
<text x="388.4" y="460.7" font-size="9.5" fill="#111" stroke="#111" stroke-width="0.35">B6 Thy Unligated</text>
<text x="387.0" y="476.4" font-size="9.5" fill="#111" stroke="#111" stroke-width="0.35">Rag2 KO Thy Unligated</text>
<text x="0.4" y="542.4" font-size="16.8" font-weight="bold" fill="#000" stroke="#000" stroke-width="0.5">B</text>
<text x="18.4" y="539.2" font-size="8.45" font-weight="bold" fill="#111">Ch12: 109,271,800</text>
<text x="516.5" y="539.5" font-size="8.45" font-weight="bold" fill="#111" text-anchor="end">109,142,600</text>
<line x1="28.5" y1="543.8" x2="515.4" y2="543.8" stroke="#3a3a3a" stroke-width="1.3"/>
<line x1="28.5" y1="542" x2="28.5" y2="547.5" stroke="#3a3a3a" stroke-width="1.3"/>
<line x1="515.4" y1="541" x2="515.4" y2="547.3" stroke="#3a3a3a" stroke-width="1.3"/>
<text x="111.6" y="558.1" font-size="9.9" fill="#2f2f85" stroke="#2f2f85" stroke-width="0.3">Bcl11b</text>
<line x1="143.5" y1="555.6" x2="468" y2="555.6" stroke="#4a4a7a" stroke-width="0.9" opacity="0.8"/>
<path d="M146.3,554.2L145.0,555.6L146.3,557M149.4,554.2L148.1,555.6L149.4,557M152.5,554.2L151.2,555.6L152.5,557M155.6,554.2L154.3,555.6L155.6,557M158.7,554.2L157.4,555.6L158.7,557M161.8,554.2L160.5,555.6L161.8,557M164.9,554.2L163.6,555.6L164.9,557M168.0,554.2L166.7,555.6L168.0,557M171.1,554.2L169.8,555.6L171.1,557M174.2,554.2L172.9,555.6L174.2,557M177.3,554.2L176.0,555.6L177.3,557M180.4,554.2L179.1,555.6L180.4,557M183.5,554.2L182.2,555.6L183.5,557M186.6,554.2L185.3,555.6L186.6,557M189.7,554.2L188.4,555.6L189.7,557M192.8,554.2L191.5,555.6L192.8,557M195.9,554.2L194.6,555.6L195.9,557M199.0,554.2L197.7,555.6L199.0,557M202.1,554.2L200.8,555.6L202.1,557M205.2,554.2L203.9,555.6L205.2,557M208.3,554.2L207.0,555.6L208.3,557M211.4,554.2L210.1,555.6L211.4,557M214.5,554.2L213.2,555.6L214.5,557M217.6,554.2L216.3,555.6L217.6,557M220.7,554.2L219.4,555.6L220.7,557M223.8,554.2L222.5,555.6L223.8,557M226.9,554.2L225.6,555.6L226.9,557M230.0,554.2L228.7,555.6L230.0,557M233.1,554.2L231.8,555.6L233.1,557M236.2,554.2L234.9,555.6L236.2,557M239.3,554.2L238.0,555.6L239.3,557M242.4,554.2L241.1,555.6L242.4,557M245.5,554.2L244.2,555.6L245.5,557M248.6,554.2L247.3,555.6L248.6,557M251.7,554.2L250.4,555.6L251.7,557M254.8,554.2L253.5,555.6L254.8,557M257.9,554.2L256.6,555.6L257.9,557M261.0,554.2L259.7,555.6L261.0,557M264.1,554.2L262.8,555.6L264.1,557M267.2,554.2L265.9,555.6L267.2,557M270.3,554.2L269.0,555.6L270.3,557M273.4,554.2L272.1,555.6L273.4,557M276.5,554.2L275.2,555.6L276.5,557M279.6,554.2L278.3,555.6L279.6,557M282.7,554.2L281.4,555.6L282.7,557M285.8,554.2L284.5,555.6L285.8,557M288.9,554.2L287.6,555.6L288.9,557M292.0,554.2L290.7,555.6L292.0,557M295.1,554.2L293.8,555.6L295.1,557M298.2,554.2L296.9,555.6L298.2,557M301.3,554.2L300.0,555.6L301.3,557M304.4,554.2L303.1,555.6L304.4,557M307.5,554.2L306.2,555.6L307.5,557M310.6,554.2L309.3,555.6L310.6,557M313.7,554.2L312.4,555.6L313.7,557M316.8,554.2L315.5,555.6L316.8,557M319.9,554.2L318.6,555.6L319.9,557M323.0,554.2L321.7,555.6L323.0,557M326.1,554.2L324.8,555.6L326.1,557M329.2,554.2L327.9,555.6L329.2,557M332.3,554.2L331.0,555.6L332.3,557M335.4,554.2L334.1,555.6L335.4,557M338.5,554.2L337.2,555.6L338.5,557M341.6,554.2L340.3,555.6L341.6,557M344.7,554.2L343.4,555.6L344.7,557M347.8,554.2L346.5,555.6L347.8,557M350.9,554.2L349.6,555.6L350.9,557M354.0,554.2L352.7,555.6L354.0,557M357.1,554.2L355.8,555.6L357.1,557M360.2,554.2L358.9,555.6L360.2,557M363.3,554.2L362.0,555.6L363.3,557M366.4,554.2L365.1,555.6L366.4,557M369.5,554.2L368.2,555.6L369.5,557M372.6,554.2L371.3,555.6L372.6,557M375.7,554.2L374.4,555.6L375.7,557M378.8,554.2L377.5,555.6L378.8,557M381.9,554.2L380.6,555.6L381.9,557M385.0,554.2L383.7,555.6L385.0,557M388.1,554.2L386.8,555.6L388.1,557M391.2,554.2L389.9,555.6L391.2,557M394.3,554.2L393.0,555.6L394.3,557M397.4,554.2L396.1,555.6L397.4,557M400.5,554.2L399.2,555.6L400.5,557M403.6,554.2L402.3,555.6L403.6,557M406.7,554.2L405.4,555.6L406.7,557M409.8,554.2L408.5,555.6L409.8,557M412.9,554.2L411.6,555.6L412.9,557M416.0,554.2L414.7,555.6L416.0,557M419.1,554.2L417.8,555.6L419.1,557M422.2,554.2L420.9,555.6L422.2,557M425.3,554.2L424.0,555.6L425.3,557M428.4,554.2L427.1,555.6L428.4,557M431.5,554.2L430.2,555.6L431.5,557M434.6,554.2L433.3,555.6L434.6,557M437.7,554.2L436.4,555.6L437.7,557M440.8,554.2L439.5,555.6L440.8,557M443.9,554.2L442.6,555.6L443.9,557M447.0,554.2L445.7,555.6L447.0,557M450.1,554.2L448.8,555.6L450.1,557M453.2,554.2L451.9,555.6L453.2,557M456.3,554.2L455.0,555.6L456.3,557M459.4,554.2L458.1,555.6L459.4,557M462.5,554.2L461.2,555.6L462.5,557M465.6,554.2L464.3,555.6L465.6,557" stroke="#4a4a7a" stroke-width="0.75" fill="none" opacity="0.75"/>
<rect x="142.8" y="552.6" width="1.5" height="6" fill="#2f2f85"/>
<rect x="194.2" y="552" width="1.6" height="7.2" fill="#2f2f85"/>
<rect x="283.59999999999997" y="552" width="1.6" height="7.2" fill="#2f2f85"/>
<rect x="467.4" y="551.8" width="6.2" height="6.6" rx="0.8" fill="#2f2f85"/>
<rect x="473" y="553.4" width="20.8" height="3.8" fill="#2f2f85"/>
<rect x="81.6" y="567" width="49.2" height="6.4" fill="#000"/>
<rect x="163.1" y="567" width="19.6" height="6.4" fill="#000"/>
<rect x="207.4" y="567" width="23.8" height="6.4" fill="#000"/>
<rect x="236.5" y="567" width="4.7" height="6.4" fill="#000"/>
<rect x="255.9" y="567" width="17.3" height="6.4" fill="#000"/>
<rect x="325.8" y="567" width="15.7" height="6.4" fill="#000"/>
<rect x="360.8" y="567" width="12.7" height="6.4" fill="#000"/>
<rect x="381.6" y="567" width="16.6" height="6.4" fill="#000"/>
<rect x="422" y="567" width="8.0" height="6.4" fill="#000"/>
<rect x="456.6" y="567" width="9.3" height="6.4" fill="#000"/>
<rect x="61.4" y="574.2" width="20.2" height="6.3" fill="#000"/>
<rect x="130.8" y="574.2" width="22.6" height="6.3" fill="#000"/>
<rect x="155" y="574.2" width="7.0" height="6.3" fill="#000"/>
<rect x="183.2" y="574.2" width="23.8" height="6.3" fill="#000"/>
<rect x="279.6" y="574.2" width="35.4" height="6.3" fill="#000"/>
<rect x="341.5" y="574.2" width="19.0" height="6.3" fill="#000"/>
<rect x="406.3" y="574.2" width="15.0" height="6.3" fill="#000"/>
<rect x="430.5" y="574.2" width="13.4" height="6.3" fill="#000"/>
<text x="64.75" y="571.8" font-size="10.4" font-weight="bold" fill="#000">F1</text>
<text x="101.75" y="582.2" font-size="10.4" font-weight="bold" fill="#000">F2</text>
<text x="135.45" y="571.9" font-size="10.4" font-weight="bold" fill="#000">F3</text>
<text x="165.45" y="582.2" font-size="10.4" font-weight="bold" fill="#000">F5</text>
<text x="188.55" y="571.9" font-size="10.4" font-weight="bold" fill="#000">F6</text>
<text x="213.25" y="582.2" font-size="10.4" font-weight="bold" fill="#000">F7</text>
<text x="231.25" y="582.2" font-size="10.4" font-weight="bold" fill="#000">F8</text>
<text x="256.35" y="582.0" font-size="10.4" font-weight="bold" fill="#000">F9</text>
<text x="288.25" y="571.6" font-size="10.4" font-weight="bold" fill="#000">F10</text>
<text x="360.15" y="582.5" font-size="10.4" font-weight="bold" fill="#000">F13</text>
<text x="380.25" y="565.7" font-size="10.4" font-weight="bold" fill="#000">F14</text>
<text x="403.55" y="572.2" font-size="10.4" font-weight="bold" fill="#000">F15</text>
<text x="430.55" y="572.2" font-size="10.4" font-weight="bold" fill="#000">F17</text>
<text x="451.35" y="582.5" font-size="10.4" font-weight="bold" fill="#000">F18</text>
<line x1="52" y1="590.8" x2="350" y2="590.8" stroke="#b0b0b0" stroke-width="0.8" stroke-dasharray="1.5 1.3"/>
<text x="62.8" y="603.3" font-size="8.3" font-weight="bold" fill="#111">Ch12: 108,405,800</text>
<text x="339.4" y="603.4" font-size="8.3" font-weight="bold" fill="#111" text-anchor="end">108,383,100</text>
<line x1="122.7" y1="609.5" x2="319.7" y2="609.5" stroke="#3a3a3a" stroke-width="1.3"/>
<line x1="122.7" y1="606.5" x2="122.7" y2="613" stroke="#3a3a3a" stroke-width="1.3"/>
<line x1="319.7" y1="606.8" x2="319.7" y2="612.5" stroke="#3a3a3a" stroke-width="1.3"/>
<line x1="189" y1="619.6" x2="297" y2="619.6" stroke="#2f2f85" stroke-width="2.6"/>
<rect x="188.2" y="616.4" width="1.8" height="6.4" rx="0.6" fill="#2f2f85"/>
<rect x="296.2" y="616.5" width="4.6" height="7" rx="0.6" fill="#2f2f85"/>
<text x="302.3" y="623.6" font-size="9.9" fill="#2f2f85" stroke="#2f2f85" stroke-width="0.25">Gm16084</text>
<rect x="153.9" y="628.8" width="56.1" height="6.1" fill="#000"/>
<rect x="217.3" y="628.8" width="32.7" height="6.1" fill="#000"/>
<rect x="137.8" y="637.3" width="15.6" height="5.9" fill="#000"/>
<text x="137.6" y="634.8" font-size="10.8" fill="#000" stroke="#000" stroke-width="0.3">R3</text>
<text x="162.3" y="644.0" font-size="10.8" fill="#000" stroke="#000" stroke-width="0.3">R4</text>
<text x="228.1" y="644.3" font-size="10.8" fill="#000" stroke="#000" stroke-width="0.3">R5</text>
<path d="M141.4,579.5 L140.8,604 C140.6,612 143,615.8 148.5,614.6 C156,613 168,602.5 176.5,601.3 C182.5,600.6 184.4,605 184.9,613 L185.5,629" fill="none" stroke="#cf2a1f" stroke-width="3.8"/>
<path d="M185.1,636.6 L188.9,643.5 L186.5,643.5 L186.5,651 L183.7,651 L183.7,643.5 L181.3,643.5 Z" fill="#c01f22"/>
<text x="153.5" y="659.6" font-size="10.3" font-weight="bold" fill="#b3141c" stroke="#b3141c" stroke-width="0.45" textLength="59.5" lengthAdjust="spacingAndGlyphs">Major Peak</text>
</svg></body></html>
